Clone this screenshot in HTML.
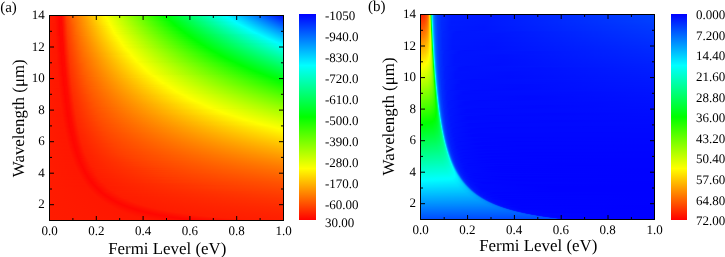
<!DOCTYPE html>
<html><head><meta charset="utf-8"><style>
html,body{margin:0;padding:0;background:#fff;width:725px;height:257px;overflow:hidden}
.hm{position:absolute;display:flex;flex-direction:column}
.hm i{display:block;height:1px;flex:none}
.cb{position:absolute;background:linear-gradient(180deg,#0000ff 0%,#00ffff 25%,#00ff00 50%,#ffff00 75%,#ff0000 100%)}
svg{position:absolute;left:0;top:0;will-change:transform}
text{font-family:"Liberation Serif",serif;fill:#000;text-rendering:geometricPrecision}
</style></head><body>
<div class="hm" style="left:49px;top:15px;width:235px;height:206px"><i style="background:linear-gradient(90deg,#ff1b00 0.5px,#ff1700 5.5px,#ff0600 9.5px,#ff0900 12.5px,#ff1d00 14.5px,#ff4100 17.5px,#ff6d00 24.5px,#fffc00 55.5px,#66ff00 91.5px,#00ff00 115.5px,#00feff 175.5px,#0004ff 234.5px)"></i><i style="background:linear-gradient(90deg,#ff1b00 0.5px,#ff1700 5.5px,#ff0600 9.5px,#ff0800 12.5px,#ff1c00 14.5px,#ff4100 17.5px,#ff6c00 24.5px,#fffe00 56.5px,#00ff00 116.5px,#00fcff 177.5px,#000dff 234.5px)"></i><i style="background:linear-gradient(90deg,#ff1b00 0.5px,#ff1700 5.5px,#ff0700 9.5px,#ff0800 12.5px,#ff1c00 14.5px,#ff4000 17.5px,#ff6b00 24.5px,#fffc00 56.5px,#00ff00 117.5px,#00ffff 178.5px,#0016ff 234.5px)"></i><i style="background:linear-gradient(90deg,#ff1b00 0.5px,#ff1700 5.5px,#ff0600 10.5px,#ff0800 12.5px,#ff1b00 14.5px,#ff3f00 17.5px,#ff6500 23.5px,#fff100 54.5px,#fcff00 58.5px,#00ff00 118.5px,#00feff 180.5px,#001eff 234.5px)"></i><i style="background:linear-gradient(90deg,#ff1b00 0.5px,#ff1700 5.5px,#ff0600 10.5px,#ff0800 12.5px,#ff1a00 14.5px,#ff3e00 17.5px,#ff6400 23.5px,#ffef00 54.5px,#feff00 58.5px,#01ff00 119.5px,#00fcff 182.5px,#0027ff 234.5px)"></i><i style="background:linear-gradient(90deg,#ff1b00 0.5px,#ff1700 5.5px,#ff0600 10.5px,#ff0800 12.5px,#ff1900 14.5px,#ff3d00 17.5px,#ff6300 23.5px,#ffed00 54.5px,#fcff00 59.5px,#01ff00 120.5px,#00ffff 183.5px,#0030ff 234.5px)"></i><i style="background:linear-gradient(90deg,#ff1b00 0.5px,#ff1700 5.5px,#ff0600 10.5px,#ff0700 12.5px,#ff1900 14.5px,#ff3c00 17.5px,#ff6200 23.5px,#ffe700 53.5px,#feff00 59.5px,#00ff03 122.5px,#00feff 185.5px,#0039ff 234.5px)"></i><i style="background:linear-gradient(90deg,#ff1b00 0.5px,#ff1800 5.5px,#ff0600 10.5px,#ff0700 12.5px,#ff1800 14.5px,#ff3c00 17.5px,#ff6100 23.5px,#ffe500 53.5px,#fcff00 60.5px,#00ff02 123.5px,#00fdff 187.5px,#0042ff 234.5px)"></i><i style="background:linear-gradient(90deg,#ff1b00 0.5px,#ff1400 6.5px,#ff0600 10.5px,#ff0700 12.5px,#ff1700 14.5px,#ff3b00 17.5px,#ff6000 23.5px,#ffe300 53.5px,#feff00 60.5px,#00ff01 124.5px,#00fffe 188.5px,#004aff 234.5px)"></i><i style="background:linear-gradient(90deg,#ff1b00 0.5px,#ff1500 6.5px,#ff0600 10.5px,#ff0700 12.5px,#ff1600 14.5px,#ff4300 18.5px,#ff7700 28.5px,#fffe00 60.5px,#00ff01 125.5px,#00ffff 190.5px,#0053ff 234.5px)"></i><i style="background:linear-gradient(90deg,#ff1b00 0.5px,#ff1500 6.5px,#ff0600 10.5px,#ff0700 12.5px,#ff1600 14.5px,#ff4200 18.5px,#ff7600 28.5px,#ffff00 61.5px,#00ff00 126.5px,#00feff 192.5px,#005bff 234.5px)"></i><i style="background:linear-gradient(90deg,#ff1b00 0.5px,#ff1500 6.5px,#ff0600 10.5px,#ff0b00 13.5px,#ff4100 18.5px,#ff7500 28.5px,#fdff00 62.5px,#01ff00 127.5px,#00fdff 194.5px,#0064ff 234.5px)"></i><i style="background:linear-gradient(90deg,#ff1b00 0.5px,#ff1500 6.5px,#ff0600 10.5px,#ff0b00 13.5px,#ff4000 18.5px,#ff7400 28.5px,#ffff00 62.5px,#00ff02 129.5px,#00fdff 196.5px,#006cff 234.5px)"></i><i style="background:linear-gradient(90deg,#ff1b00 0.5px,#ff1500 6.5px,#ff0600 10.5px,#ff0b00 13.5px,#ff3f00 18.5px,#ff6f00 27.5px,#feff00 63.5px,#00ff01 130.5px,#00fcff 198.5px,#0075ff 234.5px)"></i><i style="background:linear-gradient(90deg,#ff1b00 0.5px,#ff1500 6.5px,#ff0600 10.5px,#ff0a00 13.5px,#ff3f00 18.5px,#ff6e00 27.5px,#fffe00 63.5px,#00ff00 131.5px,#00fcff 200.5px,#007dff 234.5px)"></i><i style="background:linear-gradient(90deg,#ff1b00 0.5px,#ff1600 6.5px,#ff0600 10.5px,#ff0a00 13.5px,#ff3e00 18.5px,#ff6d00 27.5px,#feff00 64.5px,#00ff00 132.5px,#00ffff 201.5px,#0086ff 234.5px)"></i><i style="background:linear-gradient(90deg,#ff1b00 0.5px,#ff1600 6.5px,#ff0600 10.5px,#ff0900 13.5px,#ff3d00 18.5px,#ff6c00 27.5px,#fffd00 64.5px,#00ff02 134.5px,#00ffff 203.5px,#008eff 234.5px)"></i><i style="background:linear-gradient(90deg,#ff1b00 0.5px,#ff1600 6.5px,#ff0600 10.5px,#ff0900 13.5px,#ff3c00 18.5px,#ff6600 26.5px,#ffff00 65.5px,#00ff01 135.5px,#00ffff 205.5px,#0096ff 234.5px)"></i><i style="background:linear-gradient(90deg,#ff1b00 0.5px,#ff1600 6.5px,#ff0600 10.5px,#ff0900 13.5px,#ff3c00 18.5px,#ff6600 26.5px,#fffd00 65.5px,#00ff00 136.5px,#00ffff 207.5px,#009fff 234.5px)"></i><i style="background:linear-gradient(90deg,#ff1b00 0.5px,#ff1600 6.5px,#ff0600 10.5px,#ff0800 13.5px,#ff3b00 18.5px,#ff6500 26.5px,#fffe00 66.5px,#00ff02 138.5px,#00fcff 210.5px,#00a7ff 234.5px)"></i><i style="background:linear-gradient(90deg,#ff1b00 0.5px,#ff1600 6.5px,#ff0600 10.5px,#ff0800 13.5px,#ff2600 16.5px,#ff4100 19.5px,#ff7d00 32.5px,#ffff00 67.5px,#00ff01 139.5px,#00fcff 212.5px,#00afff 234.5px)"></i><i style="background:linear-gradient(90deg,#ff1b00 0.5px,#ff1700 6.5px,#ff0600 11.5px,#ff0800 13.5px,#ff1900 15.5px,#ff3900 18.5px,#ff5e00 25.5px,#ffe700 61.5px,#feff00 68.5px,#00ff00 140.5px,#00fdff 214.5px,#00b7ff 234.5px)"></i><i style="background:linear-gradient(90deg,#ff1b00 0.5px,#ff1700 6.5px,#ff0600 11.5px,#ff0800 13.5px,#ff1900 15.5px,#ff3800 18.5px,#ff5e00 25.5px,#ffe500 61.5px,#fcff00 69.5px,#00ff02 142.5px,#00fdff 216.5px,#00bfff 234.5px)"></i><i style="background:linear-gradient(90deg,#ff1b00 0.5px,#ff1700 6.5px,#ff0600 11.5px,#ff0700 13.5px,#ff1800 15.5px,#ff3800 18.5px,#ff5d00 25.5px,#ffe300 61.5px,#ffff00 69.5px,#00ff00 143.5px,#00feff 218.5px,#00c7ff 234.5px)"></i><i style="background:linear-gradient(90deg,#ff1b00 0.5px,#ff1700 6.5px,#ff0600 11.5px,#ff0700 13.5px,#ff1700 15.5px,#ff3700 18.5px,#ff5c00 25.5px,#ffe100 61.5px,#feff00 70.5px,#00ff02 145.5px,#00ffff 220.5px,#00cfff 234.5px)"></i><i style="background:linear-gradient(90deg,#ff1b00 0.5px,#ff1700 6.5px,#ff0600 11.5px,#ff0700 13.5px,#ff1600 15.5px,#ff3d00 19.5px,#ff7300 31.5px,#fffe00 70.5px,#00ff00 146.5px,#00fcff 223.5px,#00d7ff 234.5px)"></i><i style="background:linear-gradient(90deg,#ff1b00 0.5px,#ff1700 6.5px,#ff0600 11.5px,#ff0700 13.5px,#ff1500 15.5px,#ff3d00 19.5px,#ff7200 31.5px,#ffff00 71.5px,#00ff02 148.5px,#00fdff 225.5px,#00dfff 234.5px)"></i><i style="background:linear-gradient(90deg,#ff1b00 0.5px,#ff1700 6.5px,#ff0600 11.5px,#ff0c00 14.5px,#ff3c00 19.5px,#ff6d00 30.5px,#feff00 72.5px,#00ff00 149.5px,#00feff 227.5px,#00e7ff 234.5px)"></i><i style="background:linear-gradient(90deg,#ff1b00 0.5px,#ff1800 6.5px,#ff0600 11.5px,#ff0b00 14.5px,#ff3b00 19.5px,#ff6c00 30.5px,#fffd00 72.5px,#00ff02 151.5px,#00fcff 230.5px,#00efff 234.5px)"></i><i style="background:linear-gradient(90deg,#ff1b00 0.5px,#ff1800 6.5px,#ff0600 11.5px,#ff0b00 14.5px,#ff3a00 19.5px,#ff6b00 30.5px,#fffe00 73.5px,#00ff00 152.5px,#00fdff 232.5px,#00f7ff 234.5px)"></i><i style="background:linear-gradient(90deg,#ff1b00 0.5px,#ff1500 7.5px,#ff0600 11.5px,#ff0a00 14.5px,#ff3900 19.5px,#ff6a00 30.5px,#ffff00 74.5px,#00ff01 154.5px,#00ffff 234.5px)"></i><i style="background:linear-gradient(90deg,#ff1b00 0.5px,#ff1500 7.5px,#ff0600 11.5px,#ff0a00 14.5px,#ff3900 19.5px,#ff6500 29.5px,#fffd00 74.5px,#00ff03 156.5px,#00fff8 234.5px)"></i><i style="background:linear-gradient(90deg,#ff1b00 0.5px,#ff1500 7.5px,#ff0600 11.5px,#ff0900 14.5px,#ff3800 19.5px,#ff6400 29.5px,#fffd00 75.5px,#00ff01 157.5px,#00fff0 234.5px)"></i><i style="background:linear-gradient(90deg,#ff1b00 0.5px,#ff1500 7.5px,#ff0600 11.5px,#ff0900 14.5px,#ff3700 19.5px,#ff6400 29.5px,#fffe00 76.5px,#00ff02 159.5px,#00ffe8 234.5px)"></i><i style="background:linear-gradient(90deg,#ff1b00 0.5px,#ff1600 7.5px,#ff0600 11.5px,#ff0900 14.5px,#ff3600 19.5px,#ff5f00 28.5px,#fff900 75.5px,#fcff00 78.5px,#00ff02 161.5px,#00ffe1 234.5px)"></i><i style="background:linear-gradient(90deg,#ff1b00 0.5px,#ff1600 7.5px,#ff0600 11.5px,#ff0800 14.5px,#ff3c00 20.5px,#ff7700 35.5px,#ffff00 78.5px,#00ff00 162.5px,#00ffd9 234.5px)"></i><i style="background:linear-gradient(90deg,#ff1b00 0.5px,#ff1600 7.5px,#ff0600 11.5px,#ff0800 14.5px,#ff3b00 20.5px,#ff7600 35.5px,#feff00 79.5px,#00ff01 164.5px,#00ffd1 234.5px)"></i><i style="background:linear-gradient(90deg,#ff1b00 0.5px,#ff1600 7.5px,#ff0600 12.5px,#ff0800 14.5px,#ff3a00 20.5px,#ff7100 34.5px,#feff00 80.5px,#00ff02 166.5px,#00ffca 234.5px)"></i><i style="background:linear-gradient(90deg,#ff1b00 0.5px,#ff1600 7.5px,#ff0600 12.5px,#ff0700 14.5px,#ff2100 17.5px,#ff3a00 20.5px,#ff7000 34.5px,#fdff00 81.5px,#00ff02 168.5px,#00ffc3 234.5px)"></i><i style="background:linear-gradient(90deg,#ff1b00 0.5px,#ff1700 7.5px,#ff0600 12.5px,#ff0700 14.5px,#ff2000 17.5px,#ff3900 20.5px,#ff6f00 34.5px,#fdff00 82.5px,#00ff03 170.5px,#00ffbb 234.5px)"></i><i style="background:linear-gradient(90deg,#ff1b00 0.5px,#ff1700 7.5px,#ff0600 12.5px,#ff0c00 15.5px,#ff3800 20.5px,#ff6b00 33.5px,#ffff00 82.5px,#00ff00 171.5px,#00ffb4 234.5px)"></i><i style="background:linear-gradient(90deg,#ff1b00 0.5px,#ff1700 7.5px,#ff0600 12.5px,#ff0c00 15.5px,#ff3700 20.5px,#ff6a00 33.5px,#ffff00 83.5px,#00ff00 173.5px,#00ffac 234.5px)"></i><i style="background:linear-gradient(90deg,#ff1b00 0.5px,#ff1700 7.5px,#ff0600 12.5px,#ff0b00 15.5px,#ff3700 20.5px,#ff6800 33.5px,#ffff00 84.5px,#00ff01 175.5px,#00ffa5 234.5px)"></i><i style="background:linear-gradient(90deg,#ff1b00 0.5px,#ff1700 7.5px,#ff0600 12.5px,#ff0b00 15.5px,#ff3600 20.5px,#ff6400 32.5px,#ffff00 85.5px,#00ff01 177.5px,#00ff9e 234.5px)"></i><i style="background:linear-gradient(90deg,#ff1b00 0.5px,#ff1700 7.5px,#ff0600 12.5px,#ff0a00 15.5px,#ff3500 20.5px,#ff6300 32.5px,#feff00 86.5px,#00ff01 179.5px,#00ff97 234.5px)"></i><i style="background:linear-gradient(90deg,#ff1b00 0.5px,#ff1800 7.5px,#ff0600 12.5px,#ff0a00 15.5px,#ff3400 20.5px,#ff6200 32.5px,#feff00 87.5px,#00ff01 181.5px,#00ff90 234.5px)"></i><i style="background:linear-gradient(90deg,#ff1b00 0.5px,#ff1800 7.5px,#ff0600 12.5px,#ff0900 15.5px,#ff3300 20.5px,#ff5e00 31.5px,#fffd00 87.5px,#00ff01 183.5px,#00ff88 234.5px)"></i><i style="background:linear-gradient(90deg,#ff1b00 0.5px,#ff1800 7.5px,#ff0600 12.5px,#ff0900 15.5px,#ff3300 20.5px,#ff5d00 31.5px,#fffd00 88.5px,#00ff03 186.5px,#00ff81 234.5px)"></i><i style="background:linear-gradient(90deg,#ff1b00 0.5px,#ff1500 8.5px,#ff0600 12.5px,#ff0800 15.5px,#ff3800 21.5px,#ff7100 38.5px,#feff00 90.5px,#00ff03 188.5px,#00ff7a 234.5px)"></i><i style="background:linear-gradient(90deg,#ff1b00 0.5px,#ff1600 8.5px,#ff0600 12.5px,#ff0800 15.5px,#ff3700 21.5px,#ff6d00 37.5px,#feff00 91.5px,#00ff02 190.5px,#00ff73 234.5px)"></i><i style="background:linear-gradient(90deg,#ff1b00 0.5px,#ff1600 8.5px,#ff0600 13.5px,#ff0800 15.5px,#ff3600 21.5px,#ff6c00 37.5px,#feff00 92.5px,#00ff01 192.5px,#00ff6c 234.5px)"></i><i style="background:linear-gradient(90deg,#ff1b00 0.5px,#ff1600 8.5px,#ff0600 13.5px,#ff0800 15.5px,#ff3500 21.5px,#ff6800 36.5px,#ffff00 93.5px,#00ff01 194.5px,#00ff65 234.5px)"></i><i style="background:linear-gradient(90deg,#ff1b00 0.5px,#ff1600 8.5px,#ff0600 13.5px,#ff0c00 16.5px,#ff3500 21.5px,#ff6700 36.5px,#ffff00 94.5px,#00ff03 197.5px,#00ff5e 234.5px)"></i><i style="background:linear-gradient(90deg,#ff1b00 0.5px,#ff1600 8.5px,#ff0600 13.5px,#ff0c00 16.5px,#ff3400 21.5px,#ff6600 36.5px,#ffff00 95.5px,#00ff02 199.5px,#00ff58 234.5px)"></i><i style="background:linear-gradient(90deg,#ff1b00 0.5px,#ff1700 8.5px,#ff0600 13.5px,#ff0b00 16.5px,#ff3300 21.5px,#ff6200 35.5px,#ffff00 96.5px,#00ff01 201.5px,#00ff51 234.5px)"></i><i style="background:linear-gradient(90deg,#ff1b00 0.5px,#ff1700 8.5px,#ff0600 13.5px,#ff0b00 16.5px,#ff3200 21.5px,#ff6100 35.5px,#fffe00 97.5px,#00ff02 204.5px,#00ff4a 234.5px)"></i><i style="background:linear-gradient(90deg,#ff1b00 0.5px,#ff1700 8.5px,#ff0600 13.5px,#ff0a00 16.5px,#ff3100 21.5px,#ff5d00 34.5px,#fffe00 98.5px,#00ff01 206.5px,#00ff43 234.5px)"></i><i style="background:linear-gradient(90deg,#ff1b00 0.5px,#ff1700 8.5px,#ff0600 13.5px,#ff0a00 16.5px,#ff3100 21.5px,#ff5c00 34.5px,#fffd00 99.5px,#00ff02 209.5px,#00ff3d 234.5px)"></i><i style="background:linear-gradient(90deg,#ff1b00 0.5px,#ff1700 8.5px,#ff0600 13.5px,#ff0900 16.5px,#ff3000 21.5px,#ff5900 33.5px,#fffd00 100.5px,#00ff01 211.5px,#00ff36 234.5px)"></i><i style="background:linear-gradient(90deg,#ff1b00 0.5px,#ff1800 8.5px,#ff0600 13.5px,#ff0900 16.5px,#ff2f00 21.5px,#ff5800 33.5px,#fffc00 101.5px,#00ff02 214.5px,#00ff2f 234.5px)"></i><i style="background:linear-gradient(90deg,#ff1b00 0.5px,#ff1800 8.5px,#ff0600 13.5px,#ff0800 16.5px,#ff3300 22.5px,#ff6900 40.5px,#fdff00 104.5px,#00ff03 217.5px,#00ff29 234.5px)"></i><i style="background:linear-gradient(90deg,#ff1b00 0.5px,#ff1800 8.5px,#ff0600 14.5px,#ff0800 16.5px,#ff3300 22.5px,#ff6600 39.5px,#feff00 105.5px,#00ff01 219.5px,#00ff22 234.5px)"></i><i style="background:linear-gradient(90deg,#ff1b00 0.5px,#ff1600 9.5px,#ff0600 14.5px,#ff0d00 17.5px,#ff2d00 21.5px,#ff4f00 31.5px,#ffd700 88.5px,#fdff00 107.5px,#00ff02 222.5px,#00ff1c 234.5px)"></i><i style="background:linear-gradient(90deg,#ff1b00 0.5px,#ff1600 9.5px,#ff0600 14.5px,#ff0c00 17.5px,#ff3100 22.5px,#ff6100 38.5px,#fdff00 108.5px,#00ff02 225.5px,#00ff15 234.5px)"></i><i style="background:linear-gradient(90deg,#ff1b00 0.5px,#ff1600 9.5px,#ff0600 14.5px,#ff0c00 17.5px,#ff3000 22.5px,#ff6000 38.5px,#feff00 109.5px,#00ff02 228.5px,#00ff0f 234.5px)"></i><i style="background:linear-gradient(90deg,#ff1b00 0.5px,#ff1600 9.5px,#ff0600 14.5px,#ff0b00 17.5px,#ff3000 22.5px,#ff5f00 38.5px,#ffff00 110.5px,#00ff02 231.5px,#00ff09 234.5px)"></i><i style="background:linear-gradient(90deg,#ff1b00 0.5px,#ff1600 9.5px,#ff0600 14.5px,#ff0a00 17.5px,#ff2f00 22.5px,#ff5b00 37.5px,#fffe00 111.5px,#00ff02 234.5px)"></i><i style="background:linear-gradient(90deg,#ff1b00 0.5px,#ff1700 9.5px,#ff0600 14.5px,#ff0a00 17.5px,#ff2e00 22.5px,#ff5800 36.5px,#ffff00 113.5px,#04ff00 234.5px)"></i><i style="background:linear-gradient(90deg,#ff1b00 0.5px,#ff1700 9.5px,#ff0600 14.5px,#ff0900 17.5px,#ff2d00 22.5px,#ff5700 36.5px,#ffff00 114.5px,#0aff00 234.5px)"></i><i style="background:linear-gradient(90deg,#ff1b00 0.5px,#ff1700 9.5px,#ff0600 14.5px,#ff0900 17.5px,#ff2d00 22.5px,#ff5400 35.5px,#fff700 112.5px,#faff00 118.5px,#10ff00 234.5px)"></i><i style="background:linear-gradient(90deg,#ff1b00 0.5px,#ff1700 9.5px,#ff0600 14.5px,#ff0800 17.5px,#ff3000 23.5px,#ff6300 42.5px,#fdff00 118.5px,#16ff00 234.5px)"></i><i style="background:linear-gradient(90deg,#ff1b00 0.5px,#ff1700 9.5px,#ff0600 15.5px,#ff0e00 18.5px,#ff2b00 22.5px,#ff4f00 34.5px,#ffe400 105.5px,#fdff00 120.5px,#1dff00 234.5px)"></i><i style="background:linear-gradient(90deg,#ff1b00 0.5px,#ff1800 9.5px,#ff0600 15.5px,#ff0d00 18.5px,#ff2f00 23.5px,#ff5f00 41.5px,#feff00 121.5px,#23ff00 234.5px)"></i><i style="background:linear-gradient(90deg,#ff1b00 0.5px,#ff1500 10.5px,#ff0600 15.5px,#ff0c00 18.5px,#ff2e00 23.5px,#ff5e00 41.5px,#ffff00 122.5px,#29ff00 234.5px)"></i><i style="background:linear-gradient(90deg,#ff1b00 0.5px,#ff1600 10.5px,#ff0600 15.5px,#ff0b00 18.5px,#ff2d00 23.5px,#ff5a00 40.5px,#feff00 124.5px,#2fff00 234.5px)"></i><i style="background:linear-gradient(90deg,#ff1b00 0.5px,#ff1600 10.5px,#ff0600 15.5px,#ff0b00 18.5px,#ff2d00 23.5px,#ff5900 40.5px,#fffe00 125.5px,#35ff00 234.5px)"></i><i style="background:linear-gradient(90deg,#ff1b00 0.5px,#ff1600 10.5px,#ff0600 15.5px,#ff0a00 18.5px,#ff2c00 23.5px,#ff5600 39.5px,#ffff00 127.5px,#3aff00 234.5px)"></i><i style="background:linear-gradient(90deg,#ff1b00 0.5px,#ff1700 10.5px,#ff0600 15.5px,#ff0a00 18.5px,#ff2b00 23.5px,#ff5300 38.5px,#fffe00 128.5px,#40ff00 234.5px)"></i><i style="background:linear-gradient(90deg,#ff1b00 0.5px,#ff1700 10.5px,#ff0600 15.5px,#ff0900 18.5px,#ff2a00 23.5px,#ff5200 38.5px,#fffe00 130.5px,#46ff00 234.5px)"></i><i style="background:linear-gradient(90deg,#ff1b00 0.5px,#ff1700 10.5px,#ff0600 15.5px,#ff0800 18.5px,#ff2e00 24.5px,#ff5f00 45.5px,#feff00 133.5px,#4cff00 234.5px)"></i><i style="background:linear-gradient(90deg,#ff1b00 0.5px,#ff1700 10.5px,#ff0600 16.5px,#ff0d00 19.5px,#ff2d00 24.5px,#ff5c00 44.5px,#feff00 135.5px,#52ff00 234.5px)"></i><i style="background:linear-gradient(90deg,#ff1b00 0.5px,#ff1700 10.5px,#ff0600 16.5px,#ff0c00 19.5px,#ff2c00 24.5px,#ff5900 43.5px,#fdff00 137.5px,#57ff00 234.5px)"></i><i style="background:linear-gradient(90deg,#ff1b00 0.5px,#ff1800 10.5px,#ff0600 16.5px,#ff0c00 19.5px,#ff2b00 24.5px,#ff5800 43.5px,#ffff00 138.5px,#5dff00 234.5px)"></i><i style="background:linear-gradient(90deg,#ff1b00 0.5px,#ff1600 11.5px,#ff0600 16.5px,#ff0b00 19.5px,#ff2b00 24.5px,#ff5500 42.5px,#ffff00 140.5px,#63ff00 234.5px)"></i><i style="background:linear-gradient(90deg,#ff1b00 0.5px,#ff1600 11.5px,#ff0600 16.5px,#ff0a00 19.5px,#ff2a00 24.5px,#ff5400 42.5px,#ffff00 142.5px,#68ff00 234.5px)"></i><i style="background:linear-gradient(90deg,#ff1b00 0.5px,#ff1600 11.5px,#ff0600 16.5px,#ff0a00 19.5px,#ff2900 24.5px,#ff5100 41.5px,#ffff00 144.5px,#6eff00 234.5px)"></i><i style="background:linear-gradient(90deg,#ff1b00 0.5px,#ff1600 11.5px,#ff0600 16.5px,#ff0900 19.5px,#ff2800 24.5px,#ff4e00 40.5px,#ffff00 146.5px,#73ff00 234.5px)"></i><i style="background:linear-gradient(90deg,#ff1b00 0.5px,#ff1700 11.5px,#ff0600 16.5px,#ff0900 19.5px,#ff2b00 25.5px,#ff5a00 47.5px,#feff00 149.5px,#79ff00 234.5px)"></i><i style="background:linear-gradient(90deg,#ff1b00 0.5px,#ff1700 11.5px,#ff0600 17.5px,#ff0d00 20.5px,#ff2b00 25.5px,#ff5700 46.5px,#feff00 151.5px,#7eff00 234.5px)"></i><i style="background:linear-gradient(90deg,#ff1b00 0.5px,#ff1700 11.5px,#ff0600 17.5px,#ff0c00 20.5px,#ff2a00 25.5px,#ff5600 46.5px,#fdff00 154.5px,#84ff00 234.5px)"></i><i style="background:linear-gradient(90deg,#ff1b00 0.5px,#ff1700 11.5px,#ff0600 17.5px,#ff0b00 20.5px,#ff2900 25.5px,#ff5400 45.5px,#feff00 156.5px,#89ff00 234.5px)"></i><i style="background:linear-gradient(90deg,#ff1b00 0.5px,#ff1800 11.5px,#ff0600 17.5px,#ff0b00 20.5px,#ff2800 25.5px,#ff5100 44.5px,#feff00 158.5px,#8eff00 234.5px)"></i><i style="background:linear-gradient(90deg,#ff1b00 0.5px,#ff1600 12.5px,#ff0600 17.5px,#ff0a00 20.5px,#ff2800 25.5px,#ff4e00 43.5px,#ffff00 160.5px,#93ff00 234.5px)"></i><i style="background:linear-gradient(90deg,#ff1b00 0.5px,#ff1600 12.5px,#ff0600 17.5px,#ff0900 20.5px,#ff2700 25.5px,#ff4b00 42.5px,#fffd00 161.5px,#99ff00 234.5px)"></i><i style="background:linear-gradient(90deg,#ff1b00 0.5px,#ff1600 12.5px,#ff0600 17.5px,#ff0900 20.5px,#ff2a00 26.5px,#ff5800 50.5px,#feff00 166.5px,#9eff00 234.5px)"></i><i style="background:linear-gradient(90deg,#ff1b00 0.5px,#ff1700 12.5px,#ff0600 18.5px,#ff0d00 21.5px,#ff2900 26.5px,#ff5500 49.5px,#fdff00 169.5px,#a3ff00 234.5px)"></i><i style="background:linear-gradient(90deg,#ff1b00 0.5px,#ff1700 12.5px,#ff0600 18.5px,#ff0c00 21.5px,#ff2800 26.5px,#ff5200 48.5px,#feff00 171.5px,#a8ff00 234.5px)"></i><i style="background:linear-gradient(90deg,#ff1b00 0.5px,#ff1700 12.5px,#ff0600 18.5px,#ff0b00 21.5px,#ff2700 26.5px,#ff5000 47.5px,#ffff00 173.5px,#adff00 234.5px)"></i><i style="background:linear-gradient(90deg,#ff1b00 0.5px,#ff1700 12.5px,#ff0600 18.5px,#ff0a00 21.5px,#ff2700 26.5px,#ff4d00 46.5px,#ffff00 176.5px,#b2ff00 234.5px)"></i><i style="background:linear-gradient(90deg,#ff1b00 0.5px,#ff1600 13.5px,#ff0600 18.5px,#ff0a00 21.5px,#ff2600 26.5px,#ff4b00 45.5px,#fffe00 178.5px,#b7ff00 234.5px)"></i><i style="background:linear-gradient(90deg,#ff1b00 0.5px,#ff1600 13.5px,#ff0600 18.5px,#ff0900 21.5px,#ff2800 27.5px,#ff5400 52.5px,#fdff00 183.5px,#bcff00 234.5px)"></i><i style="background:linear-gradient(90deg,#ff1b00 0.5px,#ff1600 13.5px,#ff0600 18.5px,#ff0800 21.5px,#ff2800 27.5px,#ff5200 51.5px,#fdff00 186.5px,#c1ff00 234.5px)"></i><i style="background:linear-gradient(90deg,#ff1b00 0.5px,#ff1700 13.5px,#ff0600 19.5px,#ff0c00 22.5px,#ff2700 27.5px,#ff5100 51.5px,#fdff00 189.5px,#c6ff00 234.5px)"></i><i style="background:linear-gradient(90deg,#ff1b00 0.5px,#ff1700 13.5px,#ff0600 19.5px,#ff0b00 22.5px,#ff2600 27.5px,#ff4e00 50.5px,#feff00 192.5px,#cbff00 234.5px)"></i><i style="background:linear-gradient(90deg,#ff1b00 0.5px,#ff1700 13.5px,#ff0600 19.5px,#ff0b00 22.5px,#ff2500 27.5px,#ff4c00 49.5px,#feff00 195.5px,#cfff00 234.5px)"></i><i style="background:linear-gradient(90deg,#ff1b00 0.5px,#ff1700 13.5px,#ff0600 19.5px,#ff0a00 22.5px,#ff2400 27.5px,#ff4800 47.5px,#fffe00 197.5px,#d4ff00 234.5px)"></i><i style="background:linear-gradient(90deg,#ff1b00 0.5px,#ff1600 14.5px,#ff0600 19.5px,#ff0900 22.5px,#ff2700 28.5px,#ff5200 55.5px,#feff00 202.5px,#d9ff00 234.5px)"></i><i style="background:linear-gradient(90deg,#ff1b00 0.5px,#ff1600 14.5px,#ff0600 19.5px,#ff0800 22.5px,#ff2600 28.5px,#ff4f00 54.5px,#fdff00 206.5px,#ddff00 234.5px)"></i><i style="background:linear-gradient(90deg,#ff1b00 0.5px,#ff1700 14.5px,#ff0600 20.5px,#ff0c00 23.5px,#ff2500 28.5px,#ff4d00 53.5px,#feff00 209.5px,#e2ff00 234.5px)"></i><i style="background:linear-gradient(90deg,#ff1b00 0.5px,#ff1700 14.5px,#ff0600 20.5px,#ff0b00 23.5px,#ff2400 28.5px,#ff4900 51.5px,#ffff00 212.5px,#e7ff00 234.5px)"></i><i style="background:linear-gradient(90deg,#ff1b00 0.5px,#ff1700 14.5px,#ff0600 20.5px,#ff0a00 23.5px,#ff2400 28.5px,#ff4700 50.5px,#feff00 216.5px,#ebff00 234.5px)"></i><i style="background:linear-gradient(90deg,#ff1b00 0.5px,#ff1700 14.5px,#ff0600 20.5px,#ff0900 23.5px,#ff2600 29.5px,#ff4f00 57.5px,#fdff00 221.5px,#f0ff00 234.5px)"></i><i style="background:linear-gradient(90deg,#ff1b00 0.5px,#ff1600 15.5px,#ff0600 20.5px,#ff0900 23.5px,#ff2500 29.5px,#ff4c00 56.5px,#fdff00 225.5px,#f4ff00 234.5px)"></i><i style="background:linear-gradient(90deg,#ff1b00 0.5px,#ff1600 15.5px,#ff0600 21.5px,#ff0c00 24.5px,#ff2400 29.5px,#ff4a00 55.5px,#feff00 229.5px,#f8ff00 234.5px)"></i><i style="background:linear-gradient(90deg,#ff1b00 0.5px,#ff1700 15.5px,#ff0600 21.5px,#ff0b00 24.5px,#ff2300 29.5px,#ff4800 54.5px,#feff00 233.5px,#fdff00 234.5px)"></i><i style="background:linear-gradient(90deg,#ff1b00 0.5px,#ff1700 15.5px,#ff0600 21.5px,#ff0a00 24.5px,#ff2300 29.5px,#ff4500 52.5px,#fffd00 234.5px)"></i><i style="background:linear-gradient(90deg,#ff1b00 0.5px,#ff1700 15.5px,#ff0600 21.5px,#ff0900 24.5px,#ff2400 30.5px,#ff4d00 60.5px,#fff900 234.5px)"></i><i style="background:linear-gradient(90deg,#ff1b00 0.5px,#ff1600 16.5px,#ff0600 21.5px,#ff0800 24.5px,#ff2400 30.5px,#ff4900 58.5px,#fff400 234.5px)"></i><i style="background:linear-gradient(90deg,#ff1b00 0.5px,#ff1600 16.5px,#ff0600 22.5px,#ff0c00 25.5px,#ff2300 30.5px,#ff4700 57.5px,#fff000 234.5px)"></i><i style="background:linear-gradient(90deg,#ff1b00 0.5px,#ff1700 16.5px,#ff0600 22.5px,#ff0b00 25.5px,#ff2200 30.5px,#ff4500 56.5px,#ffec00 234.5px)"></i><i style="background:linear-gradient(90deg,#ff1b00 0.5px,#ff1700 16.5px,#ff0600 22.5px,#ff0a00 25.5px,#ff2100 30.5px,#ff4200 54.5px,#ffe800 234.5px)"></i><i style="background:linear-gradient(90deg,#ff1b00 0.5px,#ff1700 16.5px,#ff0600 23.5px,#ff0d00 26.5px,#ff2300 31.5px,#ff4800 61.5px,#ffe400 234.5px)"></i><i style="background:linear-gradient(90deg,#ff1b00 0.5px,#ff1600 17.5px,#ff0600 23.5px,#ff0c00 26.5px,#ff2200 31.5px,#ff4600 60.5px,#ffe000 234.5px)"></i><i style="background:linear-gradient(90deg,#ff1b00 0.5px,#ff1600 17.5px,#ff0600 23.5px,#ff0b00 26.5px,#ff2100 31.5px,#ff4300 58.5px,#ffdc00 234.5px)"></i><i style="background:linear-gradient(90deg,#ff1b00 0.5px,#ff1700 17.5px,#ff0600 23.5px,#ff0a00 26.5px,#ff2100 31.5px,#ff4000 56.5px,#ffd800 234.5px)"></i><i style="background:linear-gradient(90deg,#ff1b00 0.5px,#ff1700 17.5px,#ff0600 23.5px,#ff0900 26.5px,#ff2200 32.5px,#ff4700 64.5px,#ffd400 234.5px)"></i><i style="background:linear-gradient(90deg,#ff1b00 0.5px,#ff1600 18.5px,#ff0600 24.5px,#ff0c00 27.5px,#ff2100 32.5px,#ff4400 62.5px,#ffd000 234.5px)"></i><i style="background:linear-gradient(90deg,#ff1b00 0.5px,#ff1600 18.5px,#ff0600 24.5px,#ff0b00 27.5px,#ff2100 32.5px,#ff4100 60.5px,#ffcc00 234.5px)"></i><i style="background:linear-gradient(90deg,#ff1b00 0.5px,#ff1700 18.5px,#ff0600 24.5px,#ff0a00 27.5px,#ff2200 33.5px,#ff4700 68.5px,#ffc800 234.5px)"></i><i style="background:linear-gradient(90deg,#ff1b00 0.5px,#ff1700 18.5px,#ff0600 25.5px,#ff0d00 28.5px,#ff2100 33.5px,#ff4400 66.5px,#ffc500 234.5px)"></i><i style="background:linear-gradient(90deg,#ff1b00 0.5px,#ff1600 19.5px,#ff0600 25.5px,#ff0c00 28.5px,#ff2000 33.5px,#ff4200 64.5px,#ffc100 234.5px)"></i><i style="background:linear-gradient(90deg,#ff1b00 0.5px,#ff1600 19.5px,#ff0600 25.5px,#ff0a00 28.5px,#ff1f00 33.5px,#ff3f00 62.5px,#ffbd00 234.5px)"></i><i style="background:linear-gradient(90deg,#ff1b00 0.5px,#ff1700 19.5px,#ff0600 25.5px,#ff0900 28.5px,#ff2100 34.5px,#ff4400 69.5px,#ffba00 234.5px)"></i><i style="background:linear-gradient(90deg,#ff1b00 0.5px,#ff1700 19.5px,#ff0600 26.5px,#ff0c00 29.5px,#ff2000 34.5px,#ff4100 67.5px,#ffb600 234.5px)"></i><i style="background:linear-gradient(90deg,#ff1b00 0.5px,#ff1600 20.5px,#ff0600 26.5px,#ff0b00 29.5px,#ff1f00 34.5px,#ff3e00 65.5px,#ffb300 234.5px)"></i><i style="background:linear-gradient(90deg,#ff1b00 0.5px,#ff1600 20.5px,#ff0600 26.5px,#ff0a00 29.5px,#ff2000 35.5px,#ff4300 72.5px,#ffaf00 234.5px)"></i><i style="background:linear-gradient(90deg,#ff1b00 0.5px,#ff1700 20.5px,#ff0600 27.5px,#ff0d00 30.5px,#ff2000 35.5px,#ff4000 70.5px,#ffac00 234.5px)"></i><i style="background:linear-gradient(90deg,#ff1b00 0.5px,#ff1600 21.5px,#ff0600 27.5px,#ff0b00 30.5px,#ff1f00 35.5px,#ff3d00 67.5px,#ffa800 234.5px)"></i><i style="background:linear-gradient(90deg,#ff1b00 0.5px,#ff1600 21.5px,#ff0600 27.5px,#ff0a00 30.5px,#ff2000 36.5px,#ff4200 75.5px,#ffa500 234.5px)"></i><i style="background:linear-gradient(90deg,#ff1b00 0.5px,#ff1700 21.5px,#ff0600 28.5px,#ff0c00 31.5px,#ff1f00 36.5px,#ff3f00 72.5px,#ffa100 234.5px)"></i><i style="background:linear-gradient(90deg,#ff1b00 0.5px,#ff1600 22.5px,#ff0600 28.5px,#ff0b00 31.5px,#ff1e00 36.5px,#ff3b00 69.5px,#ff9e00 234.5px)"></i><i style="background:linear-gradient(90deg,#ff1b00 0.5px,#ff1600 22.5px,#ff0600 28.5px,#ff0900 31.5px,#ff1f00 37.5px,#ff4000 77.5px,#ff9b00 234.5px)"></i><i style="background:linear-gradient(90deg,#ff1b00 0.5px,#ff1700 22.5px,#ff0600 29.5px,#ff1100 33.5px,#ff2000 38.5px,#ff4300 84.5px,#ff9800 234.5px)"></i><i style="background:linear-gradient(90deg,#ff1b00 0.5px,#ff1600 23.5px,#ff0600 29.5px,#ff0a00 32.5px,#ff1f00 38.5px,#ff4000 81.5px,#ff9400 234.5px)"></i><i style="background:linear-gradient(90deg,#ff1b00 0.5px,#ff1600 23.5px,#ff0600 30.5px,#ff1200 34.5px,#ff2100 40.5px,#ff4900 98.5px,#ff9100 234.5px)"></i><i style="background:linear-gradient(90deg,#ff1b00 0.5px,#ff1700 23.5px,#ff0600 30.5px,#ff1000 34.5px,#ff1f00 39.5px,#ff4100 86.5px,#ff8e00 234.5px)"></i><i style="background:linear-gradient(90deg,#ff1b00 0.5px,#ff1600 24.5px,#ff0600 30.5px,#ff0e00 34.5px,#ff1e00 39.5px,#ff3d00 82.5px,#ff8b00 234.5px)"></i><i style="background:linear-gradient(90deg,#ff1b00 0.5px,#ff1700 24.5px,#ff0600 31.5px,#ff1000 35.5px,#ff2000 41.5px,#ff4500 99.5px,#ff8800 234.5px)"></i><i style="background:linear-gradient(90deg,#ff1b00 0.5px,#ff1700 24.5px,#ff0600 31.5px,#ff0e00 35.5px,#ff1e00 40.5px,#ff3d00 86.5px,#ff8500 234.5px)"></i><i style="background:linear-gradient(90deg,#ff1b00 0.5px,#ff1600 25.5px,#ff0600 32.5px,#ff1100 36.5px,#ff2000 42.5px,#ff4500 103.5px,#ff8200 234.5px)"></i><i style="background:linear-gradient(90deg,#ff1b00 0.5px,#ff1700 25.5px,#ff0600 32.5px,#ff0f00 36.5px,#ff1e00 41.5px,#ff3d00 89.5px,#ff7f00 234.5px)"></i><i style="background:linear-gradient(90deg,#ff1b00 0.5px,#ff1600 26.5px,#ff0600 33.5px,#ff1100 37.5px,#ff2000 43.5px,#ff4400 107.5px,#ff7c00 234.5px)"></i><i style="background:linear-gradient(90deg,#ff1b00 0.5px,#ff1700 26.5px,#ff0600 33.5px,#ff0f00 37.5px,#ff1f00 43.5px,#ff4100 103.5px,#ff7a00 234.5px)"></i><i style="background:linear-gradient(90deg,#ff1b00 0.5px,#ff1600 27.5px,#ff0600 34.5px,#ff1500 39.5px,#ff2200 47.5px,#ff5000 140.5px,#ff7700 234.5px)"></i><i style="background:linear-gradient(90deg,#ff1b00 0.5px,#ff1700 27.5px,#ff0600 34.5px,#ff0f00 38.5px,#ff1e00 44.5px,#ff4000 106.5px,#ff7400 234.5px)"></i><i style="background:linear-gradient(90deg,#ff1b00 0.5px,#ff1600 28.5px,#ff0600 35.5px,#ff1500 40.5px,#ff2100 48.5px,#ff4e00 144.5px,#ff7100 234.5px)"></i><i style="background:linear-gradient(90deg,#ff1b00 0.5px,#ff1700 28.5px,#ff0600 35.5px,#ff0e00 39.5px,#ff1e00 45.5px,#ff3f00 109.5px,#ff6f00 234.5px)"></i><i style="background:linear-gradient(90deg,#ff1b00 0.5px,#ff1600 29.5px,#ff0600 36.5px,#ff1400 41.5px,#ff2100 49.5px,#ff4d00 148.5px,#ff6c00 234.5px)"></i><i style="background:linear-gradient(90deg,#ff1b00 0.5px,#ff1700 29.5px,#ff0600 36.5px,#ff0d00 40.5px,#ff1d00 46.5px,#ff3d00 110.5px,#ff6a00 234.5px)"></i><i style="background:linear-gradient(90deg,#ff1b00 0.5px,#ff1600 30.5px,#ff0600 37.5px,#ff0f00 41.5px,#ff1e00 47.5px,#ff3e00 117.5px,#ff6700 234.5px)"></i><i style="background:linear-gradient(90deg,#ff1b00 0.5px,#ff1700 30.5px,#ff0600 38.5px,#ff1d00 47.5px,#ff3a00 110.5px,#ff6500 234.5px)"></i><i style="background:linear-gradient(90deg,#ff1b00 0.5px,#ff1600 31.5px,#ff0600 38.5px,#ff0e00 42.5px,#ff1d00 48.5px,#ff3c00 117.5px,#ff6200 234.5px)"></i><i style="background:linear-gradient(90deg,#ff1b00 0.5px,#ff1700 31.5px,#ff0600 39.5px,#ff1300 44.5px,#ff1f00 51.5px,#ff4500 149.5px,#ff6000 234.5px)"></i><i style="background:linear-gradient(90deg,#ff1b00 0.5px,#ff1700 32.5px,#ff0600 39.5px,#ff0c00 43.5px,#ff1c00 49.5px,#ff3900 115.5px,#ff5d00 234.5px)"></i><i style="background:linear-gradient(90deg,#ff1b00 0.5px,#ff1600 33.5px,#ff0600 40.5px,#ff0d00 44.5px,#ff1c00 50.5px,#ff3900 121.5px,#ff5b00 234.5px)"></i><i style="background:linear-gradient(90deg,#ff1b00 0.5px,#ff1700 33.5px,#ff0600 41.5px,#ff1200 46.5px,#ff1e00 53.5px,#ff4300 156.5px,#ff5900 234.5px)"></i><i style="background:linear-gradient(90deg,#ff1b00 0.5px,#ff1700 34.5px,#ff0600 42.5px,#ff1d00 52.5px,#ff3b00 133.5px,#ff5600 234.5px)"></i><i style="background:linear-gradient(90deg,#ff1b00 0.5px,#ff1600 35.5px,#ff0600 42.5px,#ff0c00 46.5px,#ff1c00 52.5px,#ff3600 121.5px,#ff5400 234.5px)"></i><i style="background:linear-gradient(90deg,#ff1b00 0.5px,#ff1700 35.5px,#ff0600 43.5px,#ff1000 48.5px,#ff1d00 55.5px,#ff3f00 160.5px,#ff5200 234.5px)"></i><i style="background:linear-gradient(90deg,#ff1b00 0.5px,#ff1700 36.5px,#ff0600 44.5px,#ff1000 49.5px,#ff1d00 56.5px,#ff3f00 165.5px,#ff5000 234.5px)"></i><i style="background:linear-gradient(90deg,#ff1b00 0.5px,#ff1600 37.5px,#ff0600 45.5px,#ff1400 51.5px,#ff1f00 60.5px,#ff4a00 216.5px,#ff4e00 234.5px)"></i><i style="background:linear-gradient(90deg,#ff1b00 0.5px,#ff1600 38.5px,#ff0600 46.5px,#ff1c00 57.5px,#ff3a00 157.5px,#ff4c00 234.5px)"></i><i style="background:linear-gradient(90deg,#ff1b00 0.5px,#ff1700 38.5px,#ff0600 47.5px,#ff1c00 58.5px,#ff3a00 160.5px,#ff4a00 234.5px)"></i><i style="background:linear-gradient(90deg,#ff1b00 0.5px,#ff1700 39.5px,#ff0600 48.5px,#ff1c00 59.5px,#ff3900 162.5px,#ff4800 234.5px)"></i><i style="background:linear-gradient(90deg,#ff1b00 0.5px,#ff1700 40.5px,#ff0600 49.5px,#ff1d00 61.5px,#ff3c00 185.5px,#ff4600 234.5px)"></i><i style="background:linear-gradient(90deg,#ff1b00 0.5px,#ff1700 41.5px,#ff0600 50.5px,#ff1c00 62.5px,#ff3b00 186.5px,#ff4400 234.5px)"></i><i style="background:linear-gradient(90deg,#ff1b00 0.5px,#ff1700 42.5px,#ff0600 51.5px,#ff1500 58.5px,#ff1f00 69.5px,#ff4200 234.5px)"></i><i style="background:linear-gradient(90deg,#ff1b00 0.5px,#ff1700 43.5px,#ff0600 52.5px,#ff1100 58.5px,#ff1d00 66.5px,#ff4000 230.5px,#ff4000 234.5px)"></i><i style="background:linear-gradient(90deg,#ff1b00 0.5px,#ff1700 44.5px,#ff0600 53.5px,#ff1000 59.5px,#ff1d00 67.5px,#ff3e00 229.5px,#ff3f00 234.5px)"></i><i style="background:linear-gradient(90deg,#ff1b00 0.5px,#ff1700 45.5px,#ff0600 55.5px,#ff1c00 68.5px,#ff3b00 225.5px,#ff3d00 234.5px)"></i><i style="background:linear-gradient(90deg,#ff1b00 0.5px,#ff1700 46.5px,#ff0600 56.5px,#ff1300 63.5px,#ff1e00 73.5px,#ff3b00 234.5px)"></i><i style="background:linear-gradient(90deg,#ff1b00 0.5px,#ff1700 47.5px,#ff0600 58.5px,#ff1c00 71.5px,#ff3a00 234.5px)"></i><i style="background:linear-gradient(90deg,#ff1b00 0.5px,#ff1700 48.5px,#ff0600 59.5px,#ff1c00 73.5px,#ff3800 234.5px)"></i><i style="background:linear-gradient(90deg,#ff1b00 0.5px,#ff1700 50.5px,#ff0600 61.5px,#ff1c00 75.5px,#ff3600 234.5px)"></i><i style="background:linear-gradient(90deg,#ff1b00 0.5px,#ff1700 51.5px,#ff0600 62.5px,#ff1300 70.5px,#ff1d00 81.5px,#ff3500 234.5px)"></i><i style="background:linear-gradient(90deg,#ff1b00 0.5px,#ff1700 52.5px,#ff0600 64.5px,#ff1c00 80.5px,#ff3300 234.5px)"></i><i style="background:linear-gradient(90deg,#ff1b00 0.5px,#ff1700 54.5px,#ff0600 66.5px,#ff1c00 82.5px,#ff3200 234.5px)"></i><i style="background:linear-gradient(90deg,#ff1b00 0.5px,#ff1700 55.5px,#ff0600 68.5px,#ff1c00 85.5px,#ff3100 234.5px)"></i><i style="background:linear-gradient(90deg,#ff1b00 0.5px,#ff1700 57.5px,#ff0600 70.5px,#ff1c00 88.5px,#ff2f00 234.5px)"></i><i style="background:linear-gradient(90deg,#ff1b00 0.5px,#ff1700 58.5px,#ff0600 72.5px,#ff1c00 91.5px,#ff2e00 234.5px)"></i><i style="background:linear-gradient(90deg,#ff1b00 0.5px,#ff1700 60.5px,#ff0600 75.5px,#ff1c00 94.5px,#ff2d00 234.5px)"></i><i style="background:linear-gradient(90deg,#ff1b00 0.5px,#ff1700 62.5px,#ff0600 77.5px,#ff1c00 98.5px,#ff2b00 234.5px)"></i><i style="background:linear-gradient(90deg,#ff1b00 0.5px,#ff1700 63.5px,#ff0600 80.5px,#ff1c00 102.5px,#ff2a00 234.5px)"></i><i style="background:linear-gradient(90deg,#ff1b00 0.5px,#ff1700 65.5px,#ff0600 83.5px,#ff1c00 106.5px,#ff2900 234.5px)"></i><i style="background:linear-gradient(90deg,#ff1b00 0.5px,#ff1700 67.5px,#ff0600 86.5px,#ff1c00 110.5px,#ff2800 234.5px)"></i><i style="background:linear-gradient(90deg,#ff1b00 0.5px,#ff1700 70.5px,#ff0600 89.5px,#ff1c00 116.5px,#ff2700 234.5px)"></i><i style="background:linear-gradient(90deg,#ff1b00 0.5px,#ff1700 72.5px,#ff0600 93.5px,#ff1c00 121.5px,#ff2600 234.5px)"></i><i style="background:linear-gradient(90deg,#ff1b00 0.5px,#ff1700 74.5px,#ff0600 97.5px,#ff1c00 127.5px,#ff2500 234.5px)"></i><i style="background:linear-gradient(90deg,#ff1b00 0.5px,#ff1700 77.5px,#ff0600 101.5px,#ff1c00 134.5px,#ff2400 234.5px)"></i><i style="background:linear-gradient(90deg,#ff1b00 0.5px,#ff1700 80.5px,#ff0600 106.5px,#ff1c00 141.5px,#ff2300 234.5px)"></i><i style="background:linear-gradient(90deg,#ff1b00 0.5px,#ff1700 82.5px,#ff0600 111.5px,#ff1d00 150.5px,#ff2200 234.5px)"></i><i style="background:linear-gradient(90deg,#ff1b00 0.5px,#ff1700 85.5px,#ff0600 117.5px,#ff1d00 159.5px,#ff2100 234.5px)"></i><i style="background:linear-gradient(90deg,#ff1b00 0.5px,#ff1700 89.5px,#ff0600 123.5px,#ff1d00 170.5px,#ff2000 234.5px)"></i><i style="background:linear-gradient(90deg,#ff1b00 0.5px,#ff1700 92.5px,#ff0600 130.5px,#ff1d00 182.5px,#ff2000 234.5px)"></i><i style="background:linear-gradient(90deg,#ff1b00 0.5px,#ff1700 96.5px,#ff0600 138.5px,#ff1d00 196.5px,#ff1f00 234.5px)"></i><i style="background:linear-gradient(90deg,#ff1b00 0.5px,#ff1700 100.5px,#ff0600 147.5px,#ff1d00 212.5px,#ff1e00 234.5px)"></i></div>
<div class="cb" style="left:299px;top:14px;width:17px;height:206px"></div>
<div class="hm" style="left:420px;top:14px;width:235px;height:206px"><i style="background:linear-gradient(90deg,#ff1700 0.5px,#ff2d00 4.5px,#ff4700 6.5px,#ff5e00 7.5px,#ff8700 8.5px,#ffd900 9.5px,#6cff00 10.5px,#00ff9a 11.5px,#00cfff 12.5px,#008dff 13.5px,#006aff 14.5px,#0056ff 15.5px,#003eff 17.5px,#002aff 21.5px,#001cff 31.5px,#001aff 67.5px,#0045ff 234.5px)"></i><i style="background:linear-gradient(90deg,#ff1c00 0.5px,#ff3100 4.5px,#ff4a00 6.5px,#ff6100 7.5px,#ff8900 8.5px,#ffd700 9.5px,#75ff00 10.5px,#00ff92 11.5px,#00d3ff 12.5px,#008fff 13.5px,#006bff 14.5px,#0056ff 15.5px,#003eff 17.5px,#002aff 21.5px,#001bff 31.5px,#001aff 68.5px,#0044ff 234.5px)"></i><i style="background:linear-gradient(90deg,#ff2000 0.5px,#ff3500 4.5px,#ff4e00 6.5px,#ff6400 7.5px,#ff8a00 8.5px,#ffd600 9.5px,#7eff00 10.5px,#00ff89 11.5px,#00d7ff 12.5px,#0090ff 13.5px,#006cff 14.5px,#0056ff 15.5px,#003eff 17.5px,#002aff 21.5px,#001bff 31.5px,#001aff 68.5px,#0043ff 234.5px)"></i><i style="background:linear-gradient(90deg,#ff2400 0.5px,#ff3900 4.5px,#ff5100 6.5px,#ff6700 7.5px,#ff8c00 8.5px,#ffd400 9.5px,#87ff00 10.5px,#00ff7f 11.5px,#00dbff 12.5px,#0092ff 13.5px,#006dff 14.5px,#0057ff 15.5px,#003fff 17.5px,#002aff 21.5px,#001bff 31.5px,#0019ff 68.5px,#0042ff 234.5px)"></i><i style="background:linear-gradient(90deg,#ff2900 0.5px,#ff3d00 4.5px,#ff5500 6.5px,#ff6a00 7.5px,#ff8e00 8.5px,#ffd300 9.5px,#8fff00 10.5px,#00ff75 11.5px,#00dfff 12.5px,#0094ff 13.5px,#006eff 14.5px,#0057ff 15.5px,#003fff 17.5px,#002aff 21.5px,#001bff 31.5px,#0019ff 68.5px,#0041ff 234.5px)"></i><i style="background:linear-gradient(90deg,#ff2d00 0.5px,#ff4100 4.5px,#ff5800 6.5px,#ff6d00 7.5px,#ff8f00 8.5px,#ffd200 9.5px,#97ff00 10.5px,#00ff6b 11.5px,#00e3ff 12.5px,#0095ff 13.5px,#006eff 14.5px,#0058ff 15.5px,#003fff 17.5px,#002aff 21.5px,#001bff 31.5px,#0019ff 68.5px,#0040ff 234.5px)"></i><i style="background:linear-gradient(90deg,#ff3100 0.5px,#ff4500 4.5px,#ff5c00 6.5px,#ff7000 7.5px,#ff9100 8.5px,#ffd100 9.5px,#9eff00 10.5px,#00ff61 11.5px,#00e8ff 12.5px,#0097ff 13.5px,#006fff 14.5px,#0058ff 15.5px,#003fff 17.5px,#002aff 21.5px,#001bff 31.5px,#0018ff 68.5px,#003fff 234.5px)"></i><i style="background:linear-gradient(90deg,#ff3600 0.5px,#ff4900 4.5px,#ff5f00 6.5px,#ff7300 7.5px,#ff9300 8.5px,#ffd100 9.5px,#a5ff00 10.5px,#00ff56 11.5px,#00edff 12.5px,#0099ff 13.5px,#0070ff 14.5px,#0059ff 15.5px,#003fff 17.5px,#002aff 21.5px,#001aff 31.5px,#0018ff 67.5px,#003fff 234.5px)"></i><i style="background:linear-gradient(90deg,#ff3a00 0.5px,#ff4d00 4.5px,#ff6300 6.5px,#ff7600 7.5px,#ff9500 8.5px,#ffd000 9.5px,#acff00 10.5px,#00ff4c 11.5px,#00f2ff 12.5px,#009bff 13.5px,#0071ff 14.5px,#0059ff 15.5px,#003fff 17.5px,#0029ff 21.5px,#001aff 31.5px,#0018ff 67.5px,#003eff 234.5px)"></i><i style="background:linear-gradient(90deg,#ff3e00 0.5px,#ff5100 4.5px,#ff6600 6.5px,#ff7900 7.5px,#ff9700 8.5px,#ffd000 9.5px,#b2ff00 10.5px,#00ff40 11.5px,#00f7ff 12.5px,#009eff 13.5px,#0072ff 14.5px,#005aff 15.5px,#003fff 17.5px,#0029ff 21.5px,#001aff 31.5px,#0018ff 67.5px,#003dff 234.5px)"></i><i style="background:linear-gradient(90deg,#ff4300 0.5px,#ff5500 4.5px,#ff6a00 6.5px,#ff7c00 7.5px,#ff9900 8.5px,#ffd000 9.5px,#b8ff00 10.5px,#00ff35 11.5px,#00fdff 12.5px,#00a0ff 13.5px,#0073ff 14.5px,#005aff 15.5px,#003fff 17.5px,#0029ff 21.5px,#001bff 30.5px,#0017ff 63.5px,#003cff 234.5px)"></i><i style="background:linear-gradient(90deg,#ff4700 0.5px,#ff5900 4.5px,#ff6d00 6.5px,#ff7f00 7.5px,#ff9c00 8.5px,#ffd000 9.5px,#bdff00 10.5px,#00ff2a 11.5px,#00fffb 12.5px,#00a2ff 13.5px,#0074ff 14.5px,#005bff 15.5px,#003fff 17.5px,#0029ff 21.5px,#001bff 30.5px,#0017ff 63.5px,#003bff 234.5px)"></i><i style="background:linear-gradient(90deg,#ff4c00 0.5px,#ff5d00 4.5px,#ff7100 6.5px,#ff8200 7.5px,#ff9e00 8.5px,#ffd000 9.5px,#c3ff00 10.5px,#00ff1e 11.5px,#00fff5 12.5px,#00a5ff 13.5px,#0076ff 14.5px,#005bff 15.5px,#0040ff 17.5px,#0029ff 21.5px,#001aff 30.5px,#0016ff 63.5px,#003aff 234.5px)"></i><i style="background:linear-gradient(90deg,#ff5000 0.5px,#ff6100 4.5px,#ff7500 6.5px,#ff8500 7.5px,#ffa000 8.5px,#ffd000 9.5px,#c7ff00 10.5px,#00ff12 11.5px,#00ffee 12.5px,#00a8ff 13.5px,#0077ff 14.5px,#005cff 15.5px,#0040ff 17.5px,#0029ff 21.5px,#001aff 30.5px,#0016ff 63.5px,#003aff 234.5px)"></i><i style="background:linear-gradient(90deg,#ff5400 0.5px,#ff6500 4.5px,#ff7800 6.5px,#ff8900 7.5px,#ffa200 8.5px,#ffd100 9.5px,#ccff00 10.5px,#00ff07 11.5px,#00ffe7 12.5px,#00abff 13.5px,#0078ff 14.5px,#005dff 15.5px,#0040ff 17.5px,#0029ff 21.5px,#001aff 30.5px,#0016ff 63.5px,#0039ff 234.5px)"></i><i style="background:linear-gradient(90deg,#ff5900 0.5px,#ff6a00 4.5px,#ff7c00 6.5px,#ff8c00 7.5px,#ffa500 8.5px,#ffd100 9.5px,#d0ff00 10.5px,#05ff00 11.5px,#00ffe0 12.5px,#00aeff 13.5px,#0079ff 14.5px,#005dff 15.5px,#0040ff 17.5px,#0029ff 21.5px,#001aff 30.5px,#0016ff 63.5px,#0038ff 234.5px)"></i><i style="background:linear-gradient(90deg,#ff5d00 0.5px,#ff6e00 4.5px,#ff8000 6.5px,#ff8f00 7.5px,#ffa700 8.5px,#ffd200 9.5px,#d4ff00 10.5px,#10ff00 11.5px,#00ffd8 12.5px,#00b1ff 13.5px,#007bff 14.5px,#005eff 15.5px,#0040ff 17.5px,#002dff 20.5px,#001cff 28.5px,#0015ff 54.5px,#0037ff 234.5px)"></i><i style="background:linear-gradient(90deg,#ff6100 0.5px,#ff7200 4.5px,#ff8300 6.5px,#ff9200 7.5px,#ffaa00 8.5px,#ffd300 9.5px,#d7ff00 10.5px,#1bff00 11.5px,#00ffd0 12.5px,#00b4ff 13.5px,#007cff 14.5px,#005fff 15.5px,#004dff 16.5px,#0038ff 18.5px,#0023ff 23.5px,#0016ff 36.5px,#001aff 95.5px,#0036ff 234.5px)"></i><i style="background:linear-gradient(90deg,#ff6600 0.5px,#ff7600 4.5px,#ff8700 6.5px,#ff9600 7.5px,#ffac00 8.5px,#ffd400 9.5px,#daff00 10.5px,#26ff00 11.5px,#00ffc7 12.5px,#00b8ff 13.5px,#007eff 14.5px,#005fff 15.5px,#004dff 16.5px,#0038ff 18.5px,#0023ff 23.5px,#0016ff 36.5px,#0019ff 95.5px,#0036ff 234.5px)"></i><i style="background:linear-gradient(90deg,#ff6a00 0.5px,#ff7a00 4.5px,#ff8b00 6.5px,#ff9900 7.5px,#ffaf00 8.5px,#ffd500 9.5px,#ddff00 10.5px,#31ff00 11.5px,#00ffbe 12.5px,#00bbff 13.5px,#0080ff 14.5px,#0060ff 15.5px,#004dff 16.5px,#0038ff 18.5px,#0026ff 22.5px,#0017ff 33.5px,#0016ff 78.5px,#0035ff 234.5px)"></i><i style="background:linear-gradient(90deg,#ff6f00 0.5px,#ff7e00 4.5px,#ff8f00 6.5px,#ff9c00 7.5px,#ffb200 8.5px,#ffd600 9.5px,#dfff00 10.5px,#3cff00 11.5px,#00ffb4 12.5px,#00bfff 13.5px,#0081ff 14.5px,#0061ff 15.5px,#004eff 16.5px,#0038ff 18.5px,#0026ff 22.5px,#0017ff 33.5px,#0016ff 78.5px,#0034ff 234.5px)"></i><i style="background:linear-gradient(90deg,#ff7300 0.5px,#ff8200 4.5px,#ff9200 6.5px,#ffa000 7.5px,#ffb400 8.5px,#ffd700 9.5px,#e1ff00 10.5px,#46ff00 11.5px,#00ffaa 12.5px,#00c3ff 13.5px,#0083ff 14.5px,#0062ff 15.5px,#004eff 16.5px,#0038ff 18.5px,#0026ff 22.5px,#0017ff 33.5px,#0016ff 78.5px,#0033ff 234.5px)"></i><i style="background:linear-gradient(90deg,#ff7700 0.5px,#ff8600 4.5px,#ff9600 6.5px,#ffa300 7.5px,#ffb700 8.5px,#ffd900 9.5px,#e3ff00 10.5px,#4fff00 11.5px,#00ffa0 12.5px,#00c8ff 13.5px,#0085ff 14.5px,#0063ff 15.5px,#004fff 16.5px,#0039ff 18.5px,#0026ff 22.5px,#0017ff 33.5px,#0016ff 78.5px,#0033ff 234.5px)"></i><i style="background:linear-gradient(90deg,#ff7c00 0.5px,#ff8a00 4.5px,#ff9a00 6.5px,#ffa600 7.5px,#ffba00 8.5px,#ffda00 9.5px,#e5ff00 10.5px,#58ff00 11.5px,#00ff95 12.5px,#00ccff 13.5px,#0087ff 14.5px,#0064ff 15.5px,#004fff 16.5px,#0039ff 18.5px,#0025ff 22.5px,#0017ff 33.5px,#0015ff 78.5px,#0032ff 234.5px)"></i><i style="background:linear-gradient(90deg,#ff8000 0.5px,#ff9500 5.5px,#ffaa00 7.5px,#ffbd00 8.5px,#ffdc00 9.5px,#e6ff00 10.5px,#61ff00 11.5px,#00ff8a 12.5px,#00d1ff 13.5px,#0089ff 14.5px,#0065ff 15.5px,#0050ff 16.5px,#0039ff 18.5px,#0025ff 22.5px,#0017ff 33.5px,#0015ff 78.5px,#0031ff 234.5px)"></i><i style="background:linear-gradient(90deg,#ff8400 0.5px,#ff9900 5.5px,#ffad00 7.5px,#ffbf00 8.5px,#ffdd00 9.5px,#e8ff00 10.5px,#69ff00 11.5px,#00ff7e 12.5px,#00d7ff 13.5px,#008bff 14.5px,#0066ff 15.5px,#0050ff 16.5px,#0039ff 18.5px,#0025ff 22.5px,#0017ff 32.5px,#0014ff 72.5px,#0030ff 234.5px)"></i><i style="background:linear-gradient(90deg,#ff8900 0.5px,#ff9d00 5.5px,#ffb100 7.5px,#ffc200 8.5px,#ffdf00 9.5px,#e8ff00 10.5px,#71ff00 11.5px,#00ff72 12.5px,#00dcff 13.5px,#008eff 14.5px,#0067ff 15.5px,#0051ff 16.5px,#0039ff 18.5px,#0025ff 22.5px,#0017ff 32.5px,#0014ff 72.5px,#0030ff 234.5px)"></i><i style="background:linear-gradient(90deg,#ff8d00 0.5px,#ffa100 5.5px,#ffb400 7.5px,#ffc500 8.5px,#ffe100 9.5px,#e9ff00 10.5px,#78ff00 11.5px,#00ff66 12.5px,#00e2ff 13.5px,#0090ff 14.5px,#0068ff 15.5px,#0052ff 16.5px,#0039ff 18.5px,#0025ff 22.5px,#0017ff 32.5px,#0014ff 72.5px,#002fff 234.5px)"></i><i style="background:linear-gradient(90deg,#ff9200 0.5px,#ffa500 5.5px,#ffb800 7.5px,#ffc800 8.5px,#ffe300 9.5px,#eaff00 10.5px,#7fff00 11.5px,#00ff59 12.5px,#00e9ff 13.5px,#0093ff 14.5px,#006aff 15.5px,#0052ff 16.5px,#003aff 18.5px,#0025ff 22.5px,#0017ff 32.5px,#0013ff 72.5px,#002eff 234.5px)"></i><i style="background:linear-gradient(90deg,#ff9600 0.5px,#ffa900 5.5px,#ffbb00 7.5px,#ffcb00 8.5px,#ffe500 9.5px,#eaff00 10.5px,#85ff00 11.5px,#00ff4c 12.5px,#00efff 13.5px,#0096ff 14.5px,#006bff 15.5px,#0053ff 16.5px,#003aff 18.5px,#0025ff 22.5px,#0017ff 32.5px,#0013ff 72.5px,#002eff 234.5px)"></i><i style="background:linear-gradient(90deg,#ff9a00 0.5px,#ffad00 5.5px,#ffbf00 7.5px,#ffce00 8.5px,#ffe700 9.5px,#eaff00 10.5px,#8aff00 11.5px,#00ff3f 12.5px,#00f7ff 13.5px,#0099ff 14.5px,#006cff 15.5px,#0054ff 16.5px,#003aff 18.5px,#0025ff 22.5px,#0017ff 32.5px,#0013ff 72.5px,#002dff 234.5px)"></i><i style="background:linear-gradient(90deg,#ff9f00 0.5px,#ffb100 5.5px,#ffc200 7.5px,#ffd100 8.5px,#ffe900 9.5px,#eaff00 10.5px,#90ff00 11.5px,#00ff32 12.5px,#00feff 13.5px,#009cff 14.5px,#006eff 15.5px,#0054ff 16.5px,#003aff 18.5px,#0025ff 22.5px,#0016ff 32.5px,#0013ff 72.5px,#002cff 234.5px)"></i><i style="background:linear-gradient(90deg,#ffa300 0.5px,#ffb500 5.5px,#ffc600 7.5px,#ffd500 8.5px,#ffeb00 9.5px,#eaff00 10.5px,#95ff00 11.5px,#00ff26 12.5px,#00fff7 13.5px,#009fff 14.5px,#006fff 15.5px,#0055ff 16.5px,#003aff 18.5px,#0025ff 22.5px,#0016ff 32.5px,#0012ff 72.5px,#002bff 234.5px)"></i><i style="background:linear-gradient(90deg,#ffa800 0.5px,#ffb900 5.5px,#ffca00 7.5px,#ffd800 8.5px,#ffee00 9.5px,#e9ff00 10.5px,#99ff00 11.5px,#00ff19 12.5px,#00ffef 13.5px,#00a3ff 14.5px,#0071ff 15.5px,#0056ff 16.5px,#003bff 18.5px,#0025ff 22.5px,#0016ff 32.5px,#0012ff 72.5px,#002bff 234.5px)"></i><i style="background:linear-gradient(90deg,#ffac00 0.5px,#ffbd00 5.5px,#ffcd00 7.5px,#ffdb00 8.5px,#fff000 9.5px,#e9ff00 10.5px,#9dff00 11.5px,#00ff0d 12.5px,#00ffe6 13.5px,#00a6ff 14.5px,#0073ff 15.5px,#0057ff 16.5px,#003bff 18.5px,#0025ff 22.5px,#0016ff 32.5px,#0012ff 72.5px,#002aff 234.5px)"></i><i style="background:linear-gradient(90deg,#ffb000 0.5px,#ffc100 5.5px,#ffd100 7.5px,#ffde00 8.5px,#fff300 9.5px,#e8ff00 10.5px,#a0ff00 11.5px,#00ff00 12.5px,#00ffdc 13.5px,#00aaff 14.5px,#0074ff 15.5px,#0058ff 16.5px,#003bff 18.5px,#0025ff 22.5px,#0016ff 32.5px,#0012ff 72.5px,#0029ff 234.5px)"></i><i style="background:linear-gradient(90deg,#ffb500 0.5px,#ffc500 5.5px,#ffd500 7.5px,#ffe100 8.5px,#fff500 9.5px,#e7ff00 10.5px,#a3ff00 11.5px,#0bff00 12.5px,#00ffd1 13.5px,#00afff 14.5px,#0076ff 15.5px,#0059ff 16.5px,#0047ff 17.5px,#002dff 20.5px,#001cff 26.5px,#0011ff 45.5px,#001fff 174.5px,#0029ff 234.5px)"></i><i style="background:linear-gradient(90deg,#ffb900 0.5px,#ffc900 5.5px,#ffd800 7.5px,#ffe500 8.5px,#fff800 9.5px,#e6ff00 10.5px,#a6ff00 11.5px,#16ff00 12.5px,#00ffc6 13.5px,#00b3ff 14.5px,#0078ff 15.5px,#005aff 16.5px,#0048ff 17.5px,#0034ff 19.5px,#0020ff 24.5px,#0013ff 38.5px,#0015ff 110.5px,#0028ff 234.5px)"></i><i style="background:linear-gradient(90deg,#ffbe00 0.5px,#ffcd00 5.5px,#ffdc00 7.5px,#ffe800 8.5px,#fffa00 9.5px,#e5ff00 10.5px,#a9ff00 11.5px,#21ff00 12.5px,#00ffbb 13.5px,#00b8ff 14.5px,#007aff 15.5px,#005bff 16.5px,#0048ff 17.5px,#0034ff 19.5px,#0020ff 24.5px,#0013ff 38.5px,#0015ff 110.5px,#0028ff 234.5px)"></i><i style="background:linear-gradient(90deg,#ffc200 0.5px,#ffd200 5.5px,#ffe000 7.5px,#ffeb00 8.5px,#fffd00 9.5px,#e4ff00 10.5px,#abff00 11.5px,#2bff00 12.5px,#00ffaf 13.5px,#00bdff 14.5px,#007dff 15.5px,#005cff 16.5px,#0049ff 17.5px,#0034ff 19.5px,#0020ff 24.5px,#0013ff 38.5px,#0015ff 110.5px,#0027ff 234.5px)"></i><i style="background:linear-gradient(90deg,#ffc600 0.5px,#ffd600 5.5px,#ffef00 8.5px,#feff00 9.5px,#e2ff00 10.5px,#acff00 11.5px,#34ff00 12.5px,#00ffa2 13.5px,#00c3ff 14.5px,#007fff 15.5px,#005dff 16.5px,#004aff 17.5px,#0034ff 19.5px,#0022ff 23.5px,#0014ff 34.5px,#0012ff 83.5px,#0026ff 234.5px)"></i><i style="background:linear-gradient(90deg,#ffcb00 0.5px,#ffda00 5.5px,#fff200 8.5px,#fcff00 9.5px,#e1ff00 10.5px,#aeff00 11.5px,#3dff00 12.5px,#00ff95 13.5px,#00c9ff 14.5px,#0082ff 15.5px,#005eff 16.5px,#004aff 17.5px,#0034ff 19.5px,#0022ff 23.5px,#0014ff 34.5px,#0011ff 83.5px,#0026ff 234.5px)"></i><i style="background:linear-gradient(90deg,#ffcf00 0.5px,#ffde00 5.5px,#fff500 8.5px,#f9ff00 9.5px,#dfff00 10.5px,#afff00 11.5px,#46ff00 12.5px,#00ff88 13.5px,#00d0ff 14.5px,#0084ff 15.5px,#0060ff 16.5px,#004bff 17.5px,#0035ff 19.5px,#0022ff 23.5px,#0014ff 34.5px,#0011ff 83.5px,#0025ff 234.5px)"></i><i style="background:linear-gradient(90deg,#ffd400 0.5px,#ffe200 5.5px,#fff900 8.5px,#f6ff00 9.5px,#ddff00 10.5px,#b0ff00 11.5px,#4dff00 12.5px,#00ff7a 13.5px,#00d7ff 14.5px,#0087ff 15.5px,#0061ff 16.5px,#004cff 17.5px,#0035ff 19.5px,#0022ff 23.5px,#0014ff 34.5px,#0011ff 83.5px,#0024ff 234.5px)"></i><i style="background:linear-gradient(90deg,#ffd800 0.5px,#ffe600 5.5px,#fffc00 8.5px,#f3ff00 9.5px,#dbff00 10.5px,#b0ff00 11.5px,#54ff00 12.5px,#00ff6c 13.5px,#00deff 14.5px,#008aff 15.5px,#0063ff 16.5px,#004cff 17.5px,#0035ff 19.5px,#0022ff 23.5px,#0014ff 34.5px,#0011ff 83.5px,#0024ff 234.5px)"></i><i style="background:linear-gradient(90deg,#ffdc00 0.5px,#ffef00 6.5px,#feff00 8.5px,#f0ff00 9.5px,#d9ff00 10.5px,#b1ff00 11.5px,#5aff00 12.5px,#00ff5d 13.5px,#00e6ff 14.5px,#008eff 15.5px,#0064ff 16.5px,#004dff 17.5px,#0035ff 19.5px,#0022ff 23.5px,#0014ff 34.5px,#0010ff 83.5px,#0023ff 234.5px)"></i><i style="background:linear-gradient(90deg,#ffe100 0.5px,#fff300 6.5px,#fbff00 8.5px,#edff00 9.5px,#d7ff00 10.5px,#b1ff00 11.5px,#60ff00 12.5px,#00ff4f 13.5px,#00efff 14.5px,#0091ff 15.5px,#0066ff 16.5px,#004eff 17.5px,#0036ff 19.5px,#0022ff 23.5px,#0013ff 34.5px,#0010ff 83.5px,#0023ff 234.5px)"></i><i style="background:linear-gradient(90deg,#ffe500 0.5px,#fff700 6.5px,#fffe00 7.5px,#eaff00 9.5px,#d5ff00 10.5px,#b1ff00 11.5px,#65ff00 12.5px,#00ff41 13.5px,#00f8ff 14.5px,#0095ff 15.5px,#0068ff 16.5px,#004fff 17.5px,#0036ff 19.5px,#0022ff 23.5px,#0013ff 34.5px,#0010ff 83.5px,#0022ff 234.5px)"></i><i style="background:linear-gradient(90deg,#ffea00 0.5px,#fcff00 7.5px,#e7ff00 9.5px,#d3ff00 10.5px,#b1ff00 11.5px,#6aff00 12.5px,#00ff34 13.5px,#00fffc 14.5px,#0099ff 15.5px,#0069ff 16.5px,#0050ff 17.5px,#0036ff 19.5px,#0022ff 23.5px,#0013ff 34.5px,#0010ff 83.5px,#0022ff 234.5px)"></i><i style="background:linear-gradient(90deg,#ffee00 0.5px,#ffff00 6.5px,#f0ff00 8.5px,#e4ff00 9.5px,#d1ff00 10.5px,#b0ff00 11.5px,#6eff00 12.5px,#00ff26 13.5px,#00fff1 14.5px,#009eff 15.5px,#006bff 16.5px,#0051ff 17.5px,#0037ff 19.5px,#0022ff 23.5px,#0014ff 33.5px,#000fff 77.5px,#0021ff 234.5px)"></i><i style="background:linear-gradient(90deg,#fff300 0.5px,#ffff00 5.5px,#ecff00 8.5px,#e1ff00 9.5px,#ceff00 10.5px,#afff00 11.5px,#72ff00 12.5px,#00ff1a 13.5px,#00ffe6 14.5px,#00a2ff 15.5px,#006eff 16.5px,#0052ff 17.5px,#0037ff 19.5px,#0022ff 23.5px,#0014ff 33.5px,#000fff 77.5px,#0020ff 234.5px)"></i><i style="background:linear-gradient(90deg,#fff700 0.5px,#fbff00 5.5px,#e9ff00 8.5px,#ddff00 9.5px,#ccff00 10.5px,#afff00 11.5px,#75ff00 12.5px,#00ff0d 13.5px,#00ffda 14.5px,#00a7ff 15.5px,#0070ff 16.5px,#0053ff 17.5px,#0037ff 19.5px,#0022ff 23.5px,#0013ff 33.5px,#000fff 76.5px,#0020ff 234.5px)"></i><i style="background:linear-gradient(90deg,#fffb00 0.5px,#faff00 4.5px,#e5ff00 8.5px,#caff00 10.5px,#aeff00 11.5px,#77ff00 12.5px,#00ff02 13.5px,#00ffcd 14.5px,#00adff 15.5px,#0072ff 16.5px,#0055ff 17.5px,#0043ff 18.5px,#002aff 21.5px,#0019ff 27.5px,#000fff 47.5px,#001cff 206.5px,#001fff 234.5px)"></i><i style="background:linear-gradient(90deg,#feff00 0.5px,#eeff00 6.5px,#d7ff00 9.5px,#c7ff00 10.5px,#acff00 11.5px,#7aff00 12.5px,#09ff00 13.5px,#00ffbf 14.5px,#00b3ff 15.5px,#0075ff 16.5px,#0056ff 17.5px,#0044ff 18.5px,#0030ff 20.5px,#001dff 25.5px,#0010ff 39.5px,#0012ff 119.5px,#001fff 234.5px)"></i><i style="background:linear-gradient(90deg,#faff00 0.5px,#eaff00 6.5px,#d4ff00 9.5px,#c4ff00 10.5px,#abff00 11.5px,#7cff00 12.5px,#13ff00 13.5px,#00ffb1 14.5px,#00baff 15.5px,#0078ff 16.5px,#0057ff 17.5px,#0045ff 18.5px,#0030ff 20.5px,#001dff 25.5px,#0010ff 39.5px,#0011ff 119.5px,#001eff 234.5px)"></i><i style="background:linear-gradient(90deg,#f5ff00 0.5px,#e6ff00 6.5px,#d0ff00 9.5px,#c2ff00 10.5px,#aaff00 11.5px,#7dff00 12.5px,#1cff00 13.5px,#00ffa2 14.5px,#00c1ff 15.5px,#007bff 16.5px,#0059ff 17.5px,#0045ff 18.5px,#0031ff 20.5px,#001dff 25.5px,#0010ff 39.5px,#0011ff 119.5px,#001eff 234.5px)"></i><i style="background:linear-gradient(90deg,#f1ff00 0.5px,#e2ff00 6.5px,#cdff00 9.5px,#bfff00 10.5px,#a8ff00 11.5px,#7eff00 12.5px,#24ff00 13.5px,#00ff93 14.5px,#00c8ff 15.5px,#007eff 16.5px,#005aff 17.5px,#0046ff 18.5px,#0031ff 20.5px,#001dff 25.5px,#0010ff 39.5px,#0011ff 119.5px,#001dff 234.5px)"></i><i style="background:linear-gradient(90deg,#ecff00 0.5px,#deff00 6.5px,#c9ff00 9.5px,#bcff00 10.5px,#a6ff00 11.5px,#7fff00 12.5px,#2cff00 13.5px,#00ff84 14.5px,#00d1ff 15.5px,#0081ff 16.5px,#005cff 17.5px,#0047ff 18.5px,#0031ff 20.5px,#001fff 24.5px,#0011ff 36.5px,#000fff 95.5px,#001dff 234.5px)"></i><i style="background:linear-gradient(90deg,#e8ff00 0.5px,#daff00 6.5px,#c6ff00 9.5px,#b9ff00 10.5px,#a5ff00 11.5px,#80ff00 12.5px,#32ff00 13.5px,#00ff74 14.5px,#00daff 15.5px,#0085ff 16.5px,#005eff 17.5px,#0048ff 18.5px,#0031ff 20.5px,#001fff 24.5px,#0012ff 35.5px,#000eff 88.5px,#001cff 234.5px)"></i><i style="background:linear-gradient(90deg,#e4ff00 0.5px,#d6ff00 6.5px,#c3ff00 9.5px,#b6ff00 10.5px,#a3ff00 11.5px,#80ff00 12.5px,#39ff00 13.5px,#00ff65 14.5px,#00e4ff 15.5px,#0089ff 16.5px,#0060ff 17.5px,#0049ff 18.5px,#0032ff 20.5px,#001fff 24.5px,#0011ff 35.5px,#000eff 88.5px,#001cff 234.5px)"></i><i style="background:linear-gradient(90deg,#dfff00 0.5px,#d2ff00 6.5px,#bfff00 9.5px,#b3ff00 10.5px,#a1ff00 11.5px,#80ff00 12.5px,#3eff00 13.5px,#00ff56 14.5px,#00eeff 15.5px,#008eff 16.5px,#0062ff 17.5px,#004aff 18.5px,#0032ff 20.5px,#001fff 24.5px,#0011ff 35.5px,#000eff 88.5px,#001bff 234.5px)"></i><i style="background:linear-gradient(90deg,#dbff00 0.5px,#cdff00 6.5px,#bcff00 9.5px,#b0ff00 10.5px,#9fff00 11.5px,#80ff00 12.5px,#43ff00 13.5px,#00ff47 14.5px,#00faff 15.5px,#0092ff 16.5px,#0064ff 17.5px,#004bff 18.5px,#0033ff 20.5px,#001fff 24.5px,#0011ff 35.5px,#000dff 88.5px,#001bff 234.5px)"></i><i style="background:linear-gradient(90deg,#d6ff00 0.5px,#c5ff00 7.5px,#adff00 10.5px,#9cff00 11.5px,#80ff00 12.5px,#47ff00 13.5px,#00ff39 14.5px,#00fff8 15.5px,#0098ff 16.5px,#0066ff 17.5px,#004cff 18.5px,#0033ff 20.5px,#001fff 24.5px,#0011ff 35.5px,#000dff 88.5px,#001aff 234.5px)"></i><i style="background:linear-gradient(90deg,#d2ff00 0.5px,#c1ff00 7.5px,#aaff00 10.5px,#9aff00 11.5px,#7fff00 12.5px,#4aff00 13.5px,#00ff2c 14.5px,#00ffea 15.5px,#009dff 16.5px,#0069ff 17.5px,#004eff 18.5px,#0033ff 20.5px,#001fff 24.5px,#0011ff 35.5px,#000dff 88.5px,#001aff 234.5px)"></i><i style="background:linear-gradient(90deg,#cdff00 0.5px,#bdff00 7.5px,#a7ff00 10.5px,#98ff00 11.5px,#7eff00 12.5px,#4dff00 13.5px,#00ff20 14.5px,#00ffdc 15.5px,#00a4ff 16.5px,#006bff 17.5px,#004fff 18.5px,#0034ff 20.5px,#001fff 24.5px,#0011ff 35.5px,#000dff 88.5px,#0019ff 234.5px)"></i><i style="background:linear-gradient(90deg,#c9ff00 0.5px,#b9ff00 7.5px,#a4ff00 10.5px,#95ff00 11.5px,#7dff00 12.5px,#50ff00 13.5px,#00ff15 14.5px,#00ffcd 15.5px,#00aaff 16.5px,#006eff 17.5px,#0051ff 18.5px,#003fff 19.5px,#0027ff 22.5px,#0016ff 29.5px,#000cff 54.5px,#0019ff 234.5px)"></i><i style="background:linear-gradient(90deg,#c4ff00 0.5px,#b5ff00 7.5px,#a0ff00 10.5px,#93ff00 11.5px,#7cff00 12.5px,#52ff00 13.5px,#00ff0b 14.5px,#00ffbd 15.5px,#00b2ff 16.5px,#0072ff 17.5px,#0052ff 18.5px,#0040ff 19.5px,#002dff 21.5px,#001bff 26.5px,#000eff 41.5px,#0010ff 138.5px,#0018ff 234.5px)"></i><i style="background:linear-gradient(90deg,#c0ff00 0.5px,#b1ff00 7.5px,#9dff00 10.5px,#90ff00 11.5px,#7bff00 12.5px,#53ff00 13.5px,#00ff01 14.5px,#00ffad 15.5px,#00baff 16.5px,#0075ff 17.5px,#0054ff 18.5px,#0041ff 19.5px,#002dff 21.5px,#001bff 26.5px,#000eff 41.5px,#0010ff 138.5px,#0018ff 234.5px)"></i><i style="background:linear-gradient(90deg,#bcff00 0.5px,#adff00 7.5px,#9aff00 10.5px,#8dff00 11.5px,#79ff00 12.5px,#55ff00 13.5px,#07ff00 14.5px,#00ff9c 15.5px,#00c3ff 16.5px,#0079ff 17.5px,#0056ff 18.5px,#0042ff 19.5px,#002eff 21.5px,#001bff 26.5px,#000eff 41.5px,#000fff 138.5px,#0017ff 234.5px)"></i><i style="background:linear-gradient(90deg,#b7ff00 0.5px,#a9ff00 7.5px,#96ff00 10.5px,#8aff00 11.5px,#77ff00 12.5px,#56ff00 13.5px,#0eff00 14.5px,#00ff8b 15.5px,#00cdff 16.5px,#007dff 17.5px,#0058ff 18.5px,#0043ff 19.5px,#002eff 21.5px,#001bff 26.5px,#000eff 41.5px,#000fff 138.5px,#0017ff 234.5px)"></i><i style="background:linear-gradient(90deg,#b3ff00 0.5px,#a5ff00 7.5px,#93ff00 10.5px,#88ff00 11.5px,#76ff00 12.5px,#56ff00 13.5px,#15ff00 14.5px,#00ff7b 15.5px,#00d8ff 16.5px,#0082ff 17.5px,#005aff 18.5px,#0044ff 19.5px,#002eff 21.5px,#001dff 25.5px,#000fff 37.5px,#000cff 102.5px,#0017ff 234.5px)"></i><i style="background:linear-gradient(90deg,#aeff00 0.5px,#a1ff00 7.5px,#8fff00 10.5px,#85ff00 11.5px,#74ff00 12.5px,#56ff00 13.5px,#1bff00 14.5px,#00ff6b 15.5px,#00e4ff 16.5px,#0086ff 17.5px,#005cff 18.5px,#0046ff 19.5px,#002fff 21.5px,#001dff 25.5px,#000fff 37.5px,#000cff 102.5px,#0016ff 234.5px)"></i><i style="background:linear-gradient(90deg,#aaff00 0.5px,#9cff00 7.5px,#8cff00 10.5px,#72ff00 12.5px,#56ff00 13.5px,#20ff00 14.5px,#00ff5b 15.5px,#00f1ff 16.5px,#008cff 17.5px,#005fff 18.5px,#0047ff 19.5px,#002fff 21.5px,#001dff 25.5px,#000fff 37.5px,#000cff 102.5px,#0016ff 234.5px)"></i><i style="background:linear-gradient(90deg,#a5ff00 0.5px,#98ff00 7.5px,#88ff00 10.5px,#70ff00 12.5px,#56ff00 13.5px,#24ff00 14.5px,#00ff4d 15.5px,#00ffff 16.5px,#0092ff 17.5px,#0061ff 18.5px,#0048ff 19.5px,#0030ff 21.5px,#001dff 25.5px,#000fff 37.5px,#000cff 101.5px,#0015ff 234.5px)"></i><i style="background:linear-gradient(90deg,#a1ff00 0.5px,#90ff00 8.5px,#7cff00 11.5px,#6dff00 12.5px,#55ff00 13.5px,#27ff00 14.5px,#00ff40 15.5px,#00ffef 16.5px,#0099ff 17.5px,#0064ff 18.5px,#004aff 19.5px,#0030ff 21.5px,#001dff 25.5px,#0010ff 36.5px,#000bff 94.5px,#0015ff 234.5px)"></i><i style="background:linear-gradient(90deg,#9cff00 0.5px,#8cff00 8.5px,#78ff00 11.5px,#6bff00 12.5px,#55ff00 13.5px,#2aff00 14.5px,#00ff33 15.5px,#00ffdf 16.5px,#00a0ff 17.5px,#0067ff 18.5px,#004bff 19.5px,#0031ff 21.5px,#001dff 25.5px,#000fff 36.5px,#000bff 93.5px,#0014ff 234.5px)"></i><i style="background:linear-gradient(90deg,#98ff00 0.5px,#88ff00 8.5px,#75ff00 11.5px,#68ff00 12.5px,#54ff00 13.5px,#2dff00 14.5px,#00ff28 15.5px,#00ffce 16.5px,#00a8ff 17.5px,#006bff 18.5px,#004dff 19.5px,#003cff 20.5px,#0025ff 23.5px,#0014ff 30.5px,#000bff 56.5px,#0014ff 234.5px)"></i><i style="background:linear-gradient(90deg,#93ff00 0.5px,#84ff00 8.5px,#72ff00 11.5px,#66ff00 12.5px,#52ff00 13.5px,#2fff00 14.5px,#00ff1e 15.5px,#00ffbc 16.5px,#00b1ff 17.5px,#006fff 18.5px,#004fff 19.5px,#003dff 20.5px,#002aff 22.5px,#0019ff 27.5px,#000dff 43.5px,#000fff 162.5px,#0014ff 234.5px)"></i><i style="background:linear-gradient(90deg,#8fff00 0.5px,#80ff00 8.5px,#6fff00 11.5px,#63ff00 12.5px,#51ff00 13.5px,#30ff00 14.5px,#00ff16 15.5px,#00ffaa 16.5px,#00bbff 17.5px,#0073ff 18.5px,#0051ff 19.5px,#003eff 20.5px,#002bff 22.5px,#0019ff 27.5px,#000dff 43.5px,#000eff 162.5px,#0013ff 234.5px)"></i><i style="background:linear-gradient(90deg,#8bff00 0.5px,#7cff00 8.5px,#6bff00 11.5px,#60ff00 12.5px,#4fff00 13.5px,#31ff00 14.5px,#00ff0e 15.5px,#00ff99 16.5px,#00c7ff 17.5px,#0078ff 18.5px,#0053ff 19.5px,#0040ff 20.5px,#002bff 22.5px,#0019ff 27.5px,#000cff 43.5px,#000eff 162.5px,#0013ff 234.5px)"></i><i style="background:linear-gradient(90deg,#86ff00 0.5px,#78ff00 8.5px,#68ff00 11.5px,#4eff00 13.5px,#32ff00 14.5px,#00ff08 15.5px,#00ff87 16.5px,#00d3ff 17.5px,#007dff 18.5px,#0056ff 19.5px,#0041ff 20.5px,#002cff 22.5px,#0019ff 27.5px,#000dff 42.5px,#000dff 150.5px,#0013ff 234.5px)"></i><i style="background:linear-gradient(90deg,#82ff00 0.5px,#74ff00 8.5px,#65ff00 11.5px,#4cff00 13.5px,#32ff00 14.5px,#00ff02 15.5px,#00ff76 16.5px,#00e1ff 17.5px,#0083ff 18.5px,#0058ff 19.5px,#0042ff 20.5px,#002cff 22.5px,#001bff 26.5px,#000eff 38.5px,#000bff 108.5px,#0012ff 234.5px)"></i><i style="background:linear-gradient(90deg,#7dff00 0.5px,#70ff00 8.5px,#61ff00 11.5px,#4aff00 13.5px,#32ff00 14.5px,#03ff00 15.5px,#00ff67 16.5px,#00f0ff 17.5px,#0089ff 18.5px,#005bff 19.5px,#0044ff 20.5px,#002dff 22.5px,#001bff 26.5px,#000eff 38.5px,#000aff 108.5px,#0012ff 234.5px)"></i><i style="background:linear-gradient(90deg,#79ff00 0.5px,#6cff00 8.5px,#5eff00 11.5px,#48ff00 13.5px,#31ff00 14.5px,#07ff00 15.5px,#00ff58 16.5px,#00fffd 17.5px,#0090ff 18.5px,#005fff 19.5px,#0046ff 20.5px,#002dff 22.5px,#001bff 26.5px,#000eff 38.5px,#000aff 108.5px,#0011ff 234.5px)"></i><i style="background:linear-gradient(90deg,#74ff00 0.5px,#68ff00 8.5px,#5aff00 11.5px,#45ff00 13.5px,#31ff00 14.5px,#0aff00 15.5px,#00ff4c 16.5px,#00ffec 17.5px,#0099ff 18.5px,#0062ff 19.5px,#0047ff 20.5px,#002eff 22.5px,#001bff 26.5px,#000eff 38.5px,#000aff 108.5px,#0011ff 234.5px)"></i><i style="background:linear-gradient(90deg,#70ff00 0.5px,#60ff00 9.5px,#4fff00 12.5px,#43ff00 13.5px,#30ff00 14.5px,#0dff00 15.5px,#00ff40 16.5px,#00ffd9 17.5px,#00a2ff 18.5px,#0066ff 19.5px,#0049ff 20.5px,#002fff 22.5px,#001bff 26.5px,#000eff 38.5px,#000aff 107.5px,#0011ff 234.5px)"></i><i style="background:linear-gradient(90deg,#6bff00 0.5px,#5cff00 9.5px,#4bff00 12.5px,#40ff00 13.5px,#2fff00 14.5px,#0fff00 15.5px,#00ff36 16.5px,#00ffc6 17.5px,#00acff 18.5px,#006aff 19.5px,#004bff 20.5px,#003aff 21.5px,#0023ff 24.5px,#0013ff 31.5px,#0009ff 59.5px,#0010ff 234.5px)"></i><i style="background:linear-gradient(90deg,#67ff00 0.5px,#58ff00 9.5px,#48ff00 12.5px,#3eff00 13.5px,#2dff00 14.5px,#10ff00 15.5px,#00ff2d 16.5px,#00ffb3 17.5px,#00b8ff 18.5px,#006fff 19.5px,#004eff 20.5px,#003bff 21.5px,#0029ff 23.5px,#0017ff 28.5px,#000bff 45.5px,#000dff 190.5px,#0010ff 234.5px)"></i><i style="background:linear-gradient(90deg,#62ff00 0.5px,#54ff00 9.5px,#45ff00 12.5px,#2cff00 14.5px,#11ff00 15.5px,#00ff26 16.5px,#00ffa0 17.5px,#00c5ff 18.5px,#0075ff 19.5px,#0050ff 20.5px,#003dff 21.5px,#0029ff 23.5px,#0017ff 28.5px,#000bff 44.5px,#000cff 175.5px,#0010ff 234.5px)"></i><i style="background:linear-gradient(90deg,#5eff00 0.5px,#50ff00 9.5px,#42ff00 12.5px,#2aff00 14.5px,#12ff00 15.5px,#00ff20 16.5px,#00ff8e 17.5px,#00d3ff 18.5px,#007bff 19.5px,#0053ff 20.5px,#003eff 21.5px,#002aff 23.5px,#0017ff 28.5px,#000bff 44.5px,#000cff 175.5px,#000fff 234.5px)"></i><i style="background:linear-gradient(90deg,#59ff00 0.5px,#4cff00 9.5px,#3eff00 12.5px,#28ff00 14.5px,#12ff00 15.5px,#00ff1a 16.5px,#00ff7d 17.5px,#00e3ff 18.5px,#0082ff 19.5px,#0056ff 20.5px,#0040ff 21.5px,#002aff 23.5px,#0017ff 28.5px,#000bff 44.5px,#000cff 175.5px,#000fff 234.5px)"></i><i style="background:linear-gradient(90deg,#55ff00 0.5px,#48ff00 9.5px,#3bff00 12.5px,#26ff00 14.5px,#11ff00 15.5px,#00ff16 16.5px,#00ff6e 17.5px,#00f5ff 18.5px,#008aff 19.5px,#005aff 20.5px,#0042ff 21.5px,#002bff 23.5px,#001aff 27.5px,#000cff 40.5px,#0009ff 125.5px,#000fff 234.5px)"></i><i style="background:linear-gradient(90deg,#50ff00 0.5px,#44ff00 9.5px,#2fff00 13.5px,#24ff00 14.5px,#11ff00 15.5px,#00ff13 16.5px,#00ff60 17.5px,#00fff6 18.5px,#0093ff 19.5px,#005eff 20.5px,#0044ff 21.5px,#002cff 23.5px,#001aff 27.5px,#000dff 39.5px,#0009ff 115.5px,#000eff 234.5px)"></i><i style="background:linear-gradient(90deg,#4cff00 0.5px,#40ff00 9.5px,#2cff00 13.5px,#22ff00 14.5px,#10ff00 15.5px,#00ff10 16.5px,#00ff55 17.5px,#00ffe2 18.5px,#009dff 19.5px,#0062ff 20.5px,#0046ff 21.5px,#002cff 23.5px,#001aff 27.5px,#000dff 39.5px,#0009ff 114.5px,#000eff 234.5px)"></i><i style="background:linear-gradient(90deg,#47ff00 0.5px,#39ff00 10.5px,#29ff00 13.5px,#0fff00 15.5px,#00ff0e 16.5px,#00ff4b 17.5px,#00ffcd 18.5px,#00a8ff 19.5px,#0067ff 20.5px,#0048ff 21.5px,#0038ff 22.5px,#0021ff 25.5px,#0012ff 32.5px,#0008ff 61.5px,#000eff 234.5px)"></i><i style="background:linear-gradient(90deg,#43ff00 0.5px,#35ff00 10.5px,#26ff00 13.5px,#0eff00 15.5px,#00ff0c 16.5px,#00ff42 17.5px,#00ffb9 18.5px,#00b6ff 19.5px,#006dff 20.5px,#004bff 21.5px,#0039ff 22.5px,#0027ff 24.5px,#0016ff 29.5px,#000aff 46.5px,#000cff 207.5px,#000dff 234.5px)"></i><i style="background:linear-gradient(90deg,#3eff00 0.5px,#31ff00 10.5px,#23ff00 13.5px,#0cff00 15.5px,#00ff0b 16.5px,#00ff3b 17.5px,#00ffa5 18.5px,#00c5ff 19.5px,#0073ff 20.5px,#004eff 21.5px,#003bff 22.5px,#0027ff 24.5px,#0016ff 29.5px,#000aff 46.5px,#000cff 207.5px,#000dff 234.5px)"></i><i style="background:linear-gradient(90deg,#3aff00 0.5px,#2dff00 10.5px,#1fff00 13.5px,#0bff00 15.5px,#00ff0b 16.5px,#00ff35 17.5px,#00ff93 18.5px,#00d6ff 19.5px,#007aff 20.5px,#0051ff 21.5px,#003cff 22.5px,#0028ff 24.5px,#0016ff 29.5px,#000aff 46.5px,#000cff 207.5px,#000dff 234.5px)"></i><i style="background:linear-gradient(90deg,#35ff00 0.5px,#29ff00 10.5px,#1cff00 13.5px,#09ff00 15.5px,#00ff0b 16.5px,#00ff30 17.5px,#00ff83 18.5px,#00e9ff 19.5px,#0082ff 20.5px,#0055ff 21.5px,#003eff 22.5px,#0028ff 24.5px,#0016ff 29.5px,#000aff 45.5px,#000bff 190.5px,#000dff 234.5px)"></i><i style="background:linear-gradient(90deg,#31ff00 0.5px,#25ff00 10.5px,#11ff00 14.5px,#06ff00 15.5px,#00ff0b 16.5px,#00ff2c 17.5px,#00ff75 18.5px,#00fdff 19.5px,#008cff 20.5px,#0059ff 21.5px,#0040ff 22.5px,#0029ff 24.5px,#0018ff 28.5px,#000cff 41.5px,#0008ff 133.5px,#000cff 234.5px)"></i><i style="background:linear-gradient(90deg,#2cff00 0.5px,#21ff00 10.5px,#0eff00 14.5px,#04ff00 15.5px,#00ff0c 16.5px,#00ff29 17.5px,#00ff68 18.5px,#00ffeb 19.5px,#0097ff 20.5px,#005eff 21.5px,#0043ff 22.5px,#002aff 24.5px,#0018ff 28.5px,#000bff 41.5px,#0008ff 133.5px,#000cff 234.5px)"></i><i style="background:linear-gradient(90deg,#28ff00 0.5px,#1cff00 10.5px,#0bff00 14.5px,#02ff00 15.5px,#00ff0d 16.5px,#00ff27 17.5px,#00ff5e 18.5px,#00ffd6 19.5px,#00a4ff 20.5px,#0063ff 21.5px,#0045ff 22.5px,#0035ff 23.5px,#001fff 26.5px,#0010ff 34.5px,#0007ff 70.5px,#000cff 234.5px)"></i><i style="background:linear-gradient(90deg,#23ff00 0.5px,#16ff00 11.5px,#08ff00 14.5px,#00ff01 15.5px,#00ff0e 16.5px,#00ff26 17.5px,#00ff56 18.5px,#00ffc0 19.5px,#00b3ff 20.5px,#006aff 21.5px,#0048ff 22.5px,#0037ff 23.5px,#0025ff 25.5px,#0015ff 30.5px,#0009ff 48.5px,#000bff 234.5px)"></i><i style="background:linear-gradient(90deg,#1fff00 0.5px,#12ff00 11.5px,#00ff03 15.5px,#00ff10 16.5px,#00ff25 17.5px,#00ff4f 18.5px,#00ffac 19.5px,#00c4ff 20.5px,#0071ff 21.5px,#004cff 22.5px,#0039ff 23.5px,#0025ff 25.5px,#0015ff 30.5px,#0009ff 48.5px,#000bff 234.5px)"></i><i style="background:linear-gradient(90deg,#1aff00 0.5px,#0eff00 11.5px,#01ff00 14.5px,#00ff11 16.5px,#00ff24 17.5px,#00ff49 18.5px,#00ff9b 19.5px,#00d8ff 20.5px,#0079ff 21.5px,#0050ff 22.5px,#003bff 23.5px,#0026ff 25.5px,#0015ff 30.5px,#0009ff 47.5px,#000bff 226.5px,#000bff 234.5px)"></i><i style="background:linear-gradient(90deg,#16ff00 0.5px,#0aff00 11.5px,#00ff02 14.5px,#00ff13 16.5px,#00ff24 17.5px,#00ff44 18.5px,#00ff8b 19.5px,#00edff 20.5px,#0083ff 21.5px,#0054ff 22.5px,#003dff 23.5px,#0027ff 25.5px,#0015ff 30.5px,#0009ff 47.5px,#000aff 226.5px,#000bff 234.5px)"></i><i style="background:linear-gradient(90deg,#11ff00 0.5px,#06ff00 11.5px,#00ff05 14.5px,#00ff15 16.5px,#00ff25 17.5px,#00ff41 18.5px,#00ff7e 19.5px,#00fffb 20.5px,#008fff 21.5px,#0059ff 22.5px,#003fff 23.5px,#0028ff 25.5px,#0017ff 29.5px,#000bff 42.5px,#0007ff 142.5px,#000aff 234.5px)"></i><i style="background:linear-gradient(90deg,#0dff00 0.5px,#00ff01 12.5px,#00ff0f 15.5px,#00ff26 17.5px,#00ff3f 18.5px,#00ff72 19.5px,#00ffe3 20.5px,#009dff 21.5px,#005fff 22.5px,#0042ff 23.5px,#0029ff 25.5px,#0017ff 29.5px,#000bff 42.5px,#0007ff 141.5px,#000aff 234.5px)"></i><i style="background:linear-gradient(90deg,#08ff00 0.5px,#00ff03 11.5px,#00ff12 15.5px,#00ff27 17.5px,#00ff3d 18.5px,#00ff69 19.5px,#00ffcd 20.5px,#00adff 21.5px,#0065ff 22.5px,#0045ff 23.5px,#0034ff 24.5px,#001eff 27.5px,#000fff 35.5px,#0007ff 73.5px,#000aff 234.5px)"></i><i style="background:linear-gradient(90deg,#04ff00 0.5px,#00ff05 10.5px,#00ff15 15.5px,#00ff28 17.5px,#00ff3c 18.5px,#00ff62 19.5px,#00ffb8 20.5px,#00bfff 21.5px,#006dff 22.5px,#0049ff 23.5px,#0036ff 24.5px,#0024ff 26.5px,#0014ff 31.5px,#0008ff 50.5px,#000aff 234.5px)"></i><i style="background:linear-gradient(90deg,#00ff01 0.5px,#00ff0d 12.5px,#00ff1f 16.5px,#00ff2a 17.5px,#00ff3b 18.5px,#00ff5c 19.5px,#00ffa6 20.5px,#00d4ff 21.5px,#0077ff 22.5px,#004dff 23.5px,#0038ff 24.5px,#0024ff 26.5px,#0014ff 31.5px,#0009ff 49.5px,#0009ff 234.5px)"></i><i style="background:linear-gradient(90deg,#00ff05 0.5px,#00ff11 12.5px,#00ff22 16.5px,#00ff3b 18.5px,#00ff58 19.5px,#00ff96 20.5px,#00ebff 21.5px,#0082ff 22.5px,#0052ff 23.5px,#003bff 24.5px,#0025ff 26.5px,#0014ff 31.5px,#0009ff 49.5px,#0009ff 234.5px)"></i><i style="background:linear-gradient(90deg,#00ff0a 0.5px,#00ff15 12.5px,#00ff25 16.5px,#00ff3c 18.5px,#00ff55 19.5px,#00ff8a 20.5px,#00fffa 21.5px,#008fff 22.5px,#0058ff 23.5px,#003eff 24.5px,#0026ff 26.5px,#0016ff 30.5px,#000aff 44.5px,#0007ff 166.5px,#0009ff 234.5px)"></i><i style="background:linear-gradient(90deg,#00ff0e 0.5px,#00ff19 12.5px,#00ff28 16.5px,#00ff3d 18.5px,#00ff52 19.5px,#00ff7f 20.5px,#00ffe2 21.5px,#009fff 22.5px,#005eff 23.5px,#0041ff 24.5px,#0031ff 25.5px,#001cff 28.5px,#000eff 36.5px,#0006ff 77.5px,#0009ff 234.5px)"></i><i style="background:linear-gradient(90deg,#00ff13 0.5px,#00ff1d 12.5px,#00ff2b 16.5px,#00ff3e 18.5px,#00ff51 19.5px,#00ff77 20.5px,#00ffcc 21.5px,#00b2ff 22.5px,#0066ff 23.5px,#0045ff 24.5px,#0033ff 25.5px,#0022ff 27.5px,#0011ff 33.5px,#0007ff 57.5px,#0008ff 234.5px)"></i><i style="background:linear-gradient(90deg,#00ff17 0.5px,#00ff24 13.5px,#00ff35 17.5px,#00ff3f 18.5px,#00ff50 19.5px,#00ff70 20.5px,#00ffb8 21.5px,#00c8ff 22.5px,#0070ff 23.5px,#0049ff 24.5px,#0035ff 25.5px,#0023ff 27.5px,#0013ff 32.5px,#0008ff 51.5px,#0008ff 234.5px)"></i><i style="background:linear-gradient(90deg,#00ff1c 0.5px,#00ff28 13.5px,#00ff38 17.5px,#00ff50 19.5px,#00ff6b 20.5px,#00ffa7 21.5px,#00e0ff 22.5px,#007cff 23.5px,#004eff 24.5px,#0038ff 25.5px,#0024ff 27.5px,#0013ff 32.5px,#0008ff 51.5px,#0008ff 234.5px)"></i><i style="background:linear-gradient(90deg,#00ff20 0.5px,#00ff2c 13.5px,#00ff3b 17.5px,#00ff50 19.5px,#00ff68 20.5px,#00ff9a 21.5px,#00f9ff 22.5px,#008aff 23.5px,#0054ff 24.5px,#003bff 25.5px,#0025ff 27.5px,#0013ff 32.5px,#0008ff 50.5px,#0008ff 234.5px)"></i><i style="background:linear-gradient(90deg,#00ff25 0.5px,#00ff30 13.5px,#00ff3e 17.5px,#00ff51 19.5px,#00ff65 20.5px,#00ff8f 21.5px,#00ffeb 22.5px,#009bff 23.5px,#005bff 24.5px,#003fff 25.5px,#0026ff 27.5px,#0015ff 31.5px,#0009ff 45.5px,#0006ff 177.5px,#0008ff 234.5px)"></i><i style="background:linear-gradient(90deg,#00ff29 0.5px,#00ff34 13.5px,#00ff41 17.5px,#00ff52 19.5px,#00ff64 20.5px,#00ff86 21.5px,#00ffd4 22.5px,#00afff 23.5px,#0064ff 24.5px,#0043ff 25.5px,#0031ff 26.5px,#0020ff 28.5px,#0010ff 34.5px,#0007ff 59.5px,#0007ff 234.5px)"></i><i style="background:linear-gradient(90deg,#00ff2e 0.5px,#00ff3a 14.5px,#00ff4a 18.5px,#00ff54 19.5px,#00ff63 20.5px,#00ff80 21.5px,#00ffc0 22.5px,#00c7ff 23.5px,#006fff 24.5px,#0047ff 25.5px,#0034ff 26.5px,#0021ff 28.5px,#0012ff 33.5px,#0007ff 53.5px,#0007ff 234.5px)"></i><i style="background:linear-gradient(90deg,#00ff32 0.5px,#00ff3e 14.5px,#00ff4d 18.5px,#00ff63 20.5px,#00ff7b 21.5px,#00ffb0 22.5px,#00e1ff 23.5px,#007cff 24.5px,#004dff 25.5px,#0037ff 26.5px,#0022ff 28.5px,#0012ff 33.5px,#0007ff 52.5px,#0007ff 234.5px)"></i><i style="background:linear-gradient(90deg,#00ff37 0.5px,#00ff42 14.5px,#00ff50 18.5px,#00ff63 20.5px,#00ff78 21.5px,#00ffa3 22.5px,#00fcff 23.5px,#008cff 24.5px,#0054ff 25.5px,#003aff 26.5px,#0024ff 28.5px,#0012ff 33.5px,#0007ff 52.5px,#0007ff 234.5px)"></i><i style="background:linear-gradient(90deg,#00ff3b 0.5px,#00ff46 14.5px,#00ff53 18.5px,#00ff64 20.5px,#00ff76 21.5px,#00ff99 22.5px,#00ffe9 23.5px,#00a0ff 24.5px,#005dff 25.5px,#003eff 26.5px,#002eff 27.5px,#001aff 30.5px,#000dff 38.5px,#0005ff 83.5px,#0007ff 234.5px)"></i><i style="background:linear-gradient(90deg,#00ff40 0.5px,#00ff4c 15.5px,#00ff5c 19.5px,#00ff65 20.5px,#00ff75 21.5px,#00ff92 22.5px,#00ffd3 23.5px,#00b8ff 24.5px,#0067ff 25.5px,#0043ff 26.5px,#0031ff 27.5px,#0020ff 29.5px,#0010ff 35.5px,#0006ff 61.5px,#0006ff 234.5px)"></i><i style="background:linear-gradient(90deg,#00ff45 0.5px,#00ff50 15.5px,#00ff5f 19.5px,#00ff74 21.5px,#00ff8c 22.5px,#00ffc1 23.5px,#00d3ff 24.5px,#0074ff 25.5px,#0049ff 26.5px,#0034ff 27.5px,#0021ff 29.5px,#0011ff 34.5px,#0007ff 54.5px,#0006ff 234.5px)"></i><i style="background:linear-gradient(90deg,#00ff49 0.5px,#00ff54 15.5px,#00ff61 19.5px,#00ff74 21.5px,#00ff88 22.5px,#00ffb3 23.5px,#00efff 24.5px,#0085ff 25.5px,#0050ff 26.5px,#0037ff 27.5px,#0022ff 29.5px,#0011ff 34.5px,#0007ff 54.5px,#0006ff 234.5px)"></i><i style="background:linear-gradient(90deg,#00ff4e 0.5px,#00ff58 15.5px,#00ff64 19.5px,#00ff75 21.5px,#00ff86 22.5px,#00ffa8 23.5px,#00fff4 24.5px,#0099ff 25.5px,#0059ff 26.5px,#003cff 27.5px,#002cff 28.5px,#0019ff 31.5px,#000bff 40.5px,#0004ff 96.5px,#0006ff 234.5px)"></i><i style="background:linear-gradient(90deg,#00ff52 0.5px,#00ff5c 15.5px,#00ff67 19.5px,#00ff76 21.5px,#00ff84 22.5px,#00ffa0 23.5px,#00ffdd 24.5px,#00b2ff 25.5px,#0064ff 26.5px,#0041ff 27.5px,#002fff 28.5px,#001eff 30.5px,#000fff 36.5px,#0006ff 63.5px,#0006ff 234.5px)"></i><i style="background:linear-gradient(90deg,#00ff57 0.5px,#00ff62 16.5px,#00ff70 20.5px,#00ff84 22.5px,#00ff9a 23.5px,#00ffcb 24.5px,#00cfff 25.5px,#0072ff 26.5px,#0047ff 27.5px,#0032ff 28.5px,#0020ff 30.5px,#0011ff 35.5px,#0006ff 56.5px,#0006ff 234.5px)"></i><i style="background:linear-gradient(90deg,#00ff5b 0.5px,#00ff66 16.5px,#00ff73 20.5px,#00ff84 22.5px,#00ff97 23.5px,#00ffbd 24.5px,#00ecff 25.5px,#0084ff 26.5px,#004fff 27.5px,#0036ff 28.5px,#0021ff 30.5px,#0011ff 35.5px,#0006ff 55.5px,#0005ff 234.5px)"></i><i style="background:linear-gradient(90deg,#00ff60 0.5px,#00ff6a 16.5px,#00ff75 20.5px,#00ff85 22.5px,#00ff94 23.5px,#00ffb3 24.5px,#00fff7 25.5px,#009bff 26.5px,#0058ff 27.5px,#003bff 28.5px,#002cff 29.5px,#0018ff 32.5px,#000bff 41.5px,#0004ff 100.5px,#0005ff 234.5px)"></i><i style="background:linear-gradient(90deg,#00ff64 0.5px,#00ff6e 16.5px,#00ff7e 21.5px,#00ff93 23.5px,#00ffab 24.5px,#00ffe1 25.5px,#00b7ff 26.5px,#0065ff 27.5px,#0040ff 28.5px,#002fff 29.5px,#001eff 31.5px,#000eff 37.5px,#0005ff 65.5px,#0005ff 234.5px)"></i><i style="background:linear-gradient(90deg,#00ff69 0.5px,#00ff74 17.5px,#00ff80 21.5px,#00ff92 23.5px,#00ffa6 24.5px,#00ffd0 25.5px,#00d5ff 26.5px,#0076ff 27.5px,#0048ff 28.5px,#0032ff 29.5px,#001fff 31.5px,#0010ff 36.5px,#0006ff 58.5px,#0005ff 234.5px)"></i><i style="background:linear-gradient(90deg,#00ff6d 0.5px,#00ff77 17.5px,#00ff83 21.5px,#00ff93 23.5px,#00ffa3 24.5px,#00ffc3 25.5px,#00f3ff 26.5px,#008bff 27.5px,#0051ff 28.5px,#0037ff 29.5px,#0021ff 31.5px,#0010ff 36.5px,#0006ff 57.5px,#0005ff 234.5px)"></i><i style="background:linear-gradient(90deg,#00ff72 0.5px,#00ff7b 17.5px,#00ff8b 22.5px,#00ffa1 24.5px,#00ffba 25.5px,#00fff2 26.5px,#00a6ff 27.5px,#005dff 28.5px,#003cff 29.5px,#002cff 30.5px,#0018ff 33.5px,#000aff 42.5px,#0004ff 104.5px,#0005ff 234.5px)"></i><i style="background:linear-gradient(90deg,#00ff77 0.5px,#00ff81 18.5px,#00ff8e 22.5px,#00ffa0 24.5px,#00ffb4 25.5px,#00ffdf 26.5px,#00c5ff 27.5px,#006dff 28.5px,#0043ff 29.5px,#002fff 30.5px,#001dff 32.5px,#000eff 38.5px,#0005ff 66.5px,#0005ff 234.5px)"></i><i style="background:linear-gradient(90deg,#00ff7b 0.5px,#00ff85 18.5px,#00ff90 22.5px,#00ffa0 24.5px,#00ffb0 25.5px,#00ffd0 26.5px,#00e5ff 27.5px,#0082ff 28.5px,#004cff 29.5px,#0034ff 30.5px,#001fff 32.5px,#0010ff 37.5px,#0006ff 59.5px,#0004ff 234.5px)"></i><i style="background:linear-gradient(90deg,#00ff80 0.5px,#00ff89 18.5px,#00ff99 23.5px,#00ffae 25.5px,#00ffc7 26.5px,#00fffe 27.5px,#009dff 28.5px,#0058ff 29.5px,#0039ff 30.5px,#002aff 31.5px,#0017ff 34.5px,#000aff 43.5px,#0003ff 109.5px,#0004ff 234.5px)"></i><i style="background:linear-gradient(90deg,#00ff84 0.5px,#00ff8f 19.5px,#00ff9b 23.5px,#00ffac 25.5px,#00ffc0 26.5px,#00ffe9 27.5px,#00bdff 28.5px,#0068ff 29.5px,#0040ff 30.5px,#002dff 31.5px,#001cff 33.5px,#000dff 39.5px,#0004ff 69.5px,#0004ff 234.5px)"></i><i style="background:linear-gradient(90deg,#00ff89 0.5px,#00ff93 19.5px,#00ff9e 23.5px,#00ffac 25.5px,#00ffbc 26.5px,#00ffdb 27.5px,#00deff 28.5px,#007eff 29.5px,#004aff 30.5px,#0032ff 31.5px,#001eff 33.5px,#000fff 38.5px,#0005ff 61.5px,#0004ff 234.5px)"></i><i style="background:linear-gradient(90deg,#00ff8d 0.5px,#00ff97 19.5px,#00ffa5 24.5px,#00ffb9 26.5px,#00ffd1 27.5px,#00f9ff 28.5px,#009bff 29.5px,#0056ff 30.5px,#0038ff 31.5px,#0029ff 32.5px,#0016ff 35.5px,#000aff 44.5px,#0003ff 113.5px,#0004ff 234.5px)"></i><i style="background:linear-gradient(90deg,#00ff92 0.5px,#00ff9c 20.5px,#00ffa8 24.5px,#00ffb8 26.5px,#00ffca 27.5px,#00fff0 28.5px,#00bdff 29.5px,#0068ff 30.5px,#0040ff 31.5px,#002dff 32.5px,#001cff 34.5px,#000dff 40.5px,#0004ff 71.5px,#0004ff 234.5px)"></i><i style="background:linear-gradient(90deg,#00ff96 0.5px,#00ffa0 20.5px,#00ffb0 25.5px,#00ffc6 27.5px,#00ffe2 28.5px,#00deff 29.5px,#0081ff 30.5px,#004aff 31.5px,#0032ff 32.5px,#001dff 34.5px,#000fff 39.5px,#0005ff 62.5px,#0004ff 234.5px)"></i><i style="background:linear-gradient(90deg,#00ff9b 0.5px,#00ffa4 20.5px,#00ffb2 25.5px,#00ffc4 27.5px,#00ffd8 28.5px,#00f9ff 29.5px,#00a0ff 30.5px,#0059ff 31.5px,#0038ff 32.5px,#0028ff 33.5px,#0016ff 36.5px,#0009ff 45.5px,#0003ff 117.5px,#0003ff 234.5px)"></i><i style="background:linear-gradient(90deg,#00ffa0 0.5px,#00ffa9 21.5px,#00ffb4 25.5px,#00ffc3 27.5px,#00ffd2 28.5px,#00fff3 29.5px,#00c4ff 30.5px,#006dff 31.5px,#0041ff 32.5px,#002dff 33.5px,#001bff 35.5px,#000dff 41.5px,#0004ff 73.5px,#0003ff 234.5px)"></i><i style="background:linear-gradient(90deg,#00ffa4 0.5px,#00ffad 21.5px,#00ffbb 26.5px,#00ffcf 28.5px,#00ffe6 29.5px,#00e4ff 30.5px,#008aff 31.5px,#004eff 32.5px,#0033ff 33.5px,#001dff 35.5px,#000eff 40.5px,#0005ff 63.5px,#0003ff 234.5px)"></i><i style="background:linear-gradient(90deg,#00ffa9 0.5px,#00ffb3 22.5px,#00ffbe 26.5px,#00ffcd 28.5px,#00ffde 29.5px,#00fbff 30.5px,#0060ff 32.5px,#003bff 33.5px,#0029ff 34.5px,#001aff 36.5px,#000cff 42.5px,#0004ff 76.5px,#0003ff 234.5px)"></i><i style="background:linear-gradient(90deg,#00ffad 0.5px,#00ffb6 22.5px,#00ffc5 27.5px,#00ffda 29.5px,#00fff3 30.5px,#00d1ff 31.5px,#007aff 32.5px,#0046ff 33.5px,#002fff 34.5px,#001cff 36.5px,#000eff 41.5px,#0004ff 66.5px,#0003ff 234.5px)"></i><i style="background:linear-gradient(90deg,#00ffb2 0.5px,#00ffba 22.5px,#00ffc7 27.5px,#00ffd7 29.5px,#00ffe9 30.5px,#00edff 31.5px,#009dff 32.5px,#0056ff 33.5px,#0036ff 34.5px,#0027ff 35.5px,#0015ff 38.5px,#0008ff 48.5px,#0003ff 145.5px,#0003ff 234.5px)"></i><i style="background:linear-gradient(90deg,#00ffb6 0.5px,#00ffc0 23.5px,#00ffce 28.5px,#00ffe4 30.5px,#00ffff 31.5px,#00c2ff 32.5px,#006fff 33.5px,#0041ff 34.5px,#002cff 35.5px,#001aff 37.5px,#000cff 43.5px,#0003ff 77.5px,#0003ff 234.5px)"></i><i style="background:linear-gradient(90deg,#00ffbb 0.5px,#00ffc3 23.5px,#00ffd0 28.5px,#00ffe0 30.5px,#00fff3 31.5px,#00e1ff 32.5px,#0091ff 33.5px,#0050ff 34.5px,#0033ff 35.5px,#0025ff 36.5px,#0014ff 39.5px,#0008ff 49.5px,#0002ff 153.5px,#0003ff 234.5px)"></i><i style="background:linear-gradient(90deg,#00ffc0 0.5px,#00ffc9 24.5px,#00ffd7 29.5px,#00ffed 31.5px,#00f6ff 32.5px,#00b8ff 33.5px,#0068ff 34.5px,#003dff 35.5px,#002aff 36.5px,#0019ff 38.5px,#000cff 44.5px,#0003ff 79.5px,#0003ff 234.5px)"></i><i style="background:linear-gradient(90deg,#00ffc4 0.5px,#00ffcd 24.5px,#00ffd9 29.5px,#00ffe9 31.5px,#00fffc 32.5px,#00d9ff 33.5px,#008aff 34.5px,#004cff 35.5px,#0031ff 36.5px,#001bff 38.5px,#000dff 43.5px,#0004ff 68.5px,#0003ff 234.5px)"></i><i style="background:linear-gradient(90deg,#00ffc9 0.5px,#00ffd2 25.5px,#00ffe0 30.5px,#00fff5 32.5px,#00eeff 33.5px,#00b2ff 34.5px,#0064ff 35.5px,#003bff 36.5px,#0028ff 37.5px,#0018ff 39.5px,#000bff 45.5px,#0003ff 82.5px,#0002ff 234.5px)"></i><i style="background:linear-gradient(90deg,#00ffcd 0.5px,#00ffd6 25.5px,#00ffe1 30.5px,#00fff1 32.5px,#00fbff 33.5px,#00d4ff 34.5px,#0088ff 35.5px,#004bff 36.5px,#0030ff 37.5px,#001bff 39.5px,#000dff 44.5px,#0004ff 70.5px,#0002ff 234.5px)"></i><i style="background:linear-gradient(90deg,#00ffd2 0.5px,#00ffdb 26.5px,#00ffe8 31.5px,#00fffc 33.5px,#00e9ff 34.5px,#00b1ff 35.5px,#0065ff 36.5px,#003bff 37.5px,#0028ff 38.5px,#0018ff 40.5px,#000bff 46.5px,#0003ff 84.5px,#0002ff 234.5px)"></i><i style="background:linear-gradient(90deg,#00ffd7 0.5px,#00ffde 26.5px,#00ffea 31.5px,#00fff8 33.5px,#00f6ff 34.5px,#00d2ff 35.5px,#008bff 36.5px,#004dff 37.5px,#0030ff 38.5px,#001bff 40.5px,#000cff 45.5px,#0004ff 72.5px,#0002ff 234.5px)"></i><i style="background:linear-gradient(90deg,#00ffdb 0.5px,#00ffe3 27.5px,#00fff0 32.5px,#00fcff 34.5px,#00e6ff 35.5px,#00b5ff 36.5px,#006aff 37.5px,#003dff 38.5px,#0028ff 39.5px,#0018ff 41.5px,#000bff 47.5px,#0003ff 86.5px,#0002ff 234.5px)"></i><i style="background:linear-gradient(90deg,#00ffe0 0.5px,#00ffe7 27.5px,#00fff2 32.5px,#00fffe 34.5px,#00f1ff 35.5px,#00d3ff 36.5px,#0051ff 38.5px,#0032ff 39.5px,#0023ff 40.5px,#0012ff 43.5px,#0007ff 54.5px,#0002ff 211.5px,#0002ff 234.5px)"></i><i style="background:linear-gradient(90deg,#00ffe4 0.5px,#00ffec 28.5px,#00fff8 33.5px,#00fffd 34.5px,#00f7ff 35.5px,#00e5ff 36.5px,#00bcff 37.5px,#0074ff 38.5px,#0041ff 39.5px,#002aff 40.5px,#0018ff 42.5px,#000aff 48.5px,#0003ff 87.5px,#0002ff 234.5px)"></i><i style="background:linear-gradient(90deg,#00ffe9 0.5px,#00fff1 29.5px,#00fffe 34.5px,#00f9ff 35.5px,#00eeff 36.5px,#00d6ff 37.5px,#00a1ff 38.5px,#005bff 39.5px,#0035ff 40.5px,#0024ff 41.5px,#0012ff 44.5px,#0007ff 54.5px,#0002ff 186.5px,#0002ff 234.5px)"></i><i style="background:linear-gradient(90deg,#00ffed 0.5px,#00fff5 29.5px,#00ffff 34.5px,#00f2ff 36.5px,#00e4ff 37.5px,#00c4ff 38.5px,#0049ff 40.5px,#002dff 41.5px,#0019ff 43.5px,#000bff 48.5px,#0003ff 78.5px,#0002ff 234.5px)"></i><i style="background:linear-gradient(90deg,#00fff2 0.5px,#00fffa 30.5px,#00fdff 34.5px,#00f4ff 36.5px,#00eaff 37.5px,#00d8ff 38.5px,#00b0ff 39.5px,#006bff 40.5px,#003cff 41.5px,#0027ff 42.5px,#0017ff 44.5px,#000aff 50.5px,#0002ff 93.5px,#0002ff 234.5px)"></i><i style="background:linear-gradient(90deg,#00fff7 0.5px,#00fdff 33.5px,#00edff 37.5px,#00e2ff 38.5px,#00ccff 39.5px,#009aff 40.5px,#0057ff 41.5px,#0033ff 42.5px,#0023ff 43.5px,#0011ff 46.5px,#0006ff 57.5px,#0002ff 234.5px)"></i><i style="background:linear-gradient(90deg,#00fffb 0.5px,#00fcff 31.5px,#00eeff 37.5px,#00daff 39.5px,#00beff 40.5px,#0049ff 42.5px,#002dff 43.5px,#0018ff 45.5px,#000bff 50.5px,#0003ff 81.5px,#0002ff 234.5px)"></i><i style="background:linear-gradient(90deg,#00feff 0.5px,#00f7ff 32.5px,#00edff 37.5px,#00e0ff 39.5px,#00d1ff 40.5px,#00b0ff 41.5px,#0070ff 42.5px,#003eff 43.5px,#0028ff 44.5px,#0016ff 46.5px,#000aff 52.5px,#0002ff 96.5px,#0002ff 234.5px)"></i><i style="background:linear-gradient(90deg,#00faff 0.5px,#00f2ff 33.5px,#00e8ff 38.5px,#00d9ff 40.5px,#00c8ff 41.5px,#00a1ff 42.5px,#0060ff 43.5px,#0036ff 44.5px,#0024ff 45.5px,#0015ff 47.5px,#0008ff 54.5px,#0002ff 116.5px,#0001ff 234.5px)"></i><i style="background:linear-gradient(90deg,#00f5ff 0.5px,#00edff 34.5px,#00e3ff 39.5px,#00d3ff 41.5px,#00bfff 42.5px,#0093ff 43.5px,#0054ff 44.5px,#0031ff 45.5px,#0021ff 46.5px,#0010ff 49.5px,#0005ff 61.5px,#0001ff 234.5px)"></i><i style="background:linear-gradient(90deg,#00f0ff 0.5px,#00e9ff 35.5px,#00deff 40.5px,#00cdff 42.5px,#00b7ff 43.5px,#0086ff 44.5px,#004aff 45.5px,#002cff 46.5px,#001fff 47.5px,#0010ff 50.5px,#0005ff 63.5px,#0001ff 234.5px)"></i><i style="background:linear-gradient(90deg,#00ecff 0.5px,#00e4ff 36.5px,#00d9ff 41.5px,#00c7ff 43.5px,#00afff 44.5px,#0044ff 46.5px,#0029ff 47.5px,#0016ff 49.5px,#0009ff 55.5px,#0002ff 102.5px,#0001ff 234.5px)"></i><i style="background:linear-gradient(90deg,#00e7ff 0.5px,#00e0ff 37.5px,#00d4ff 42.5px,#00c1ff 44.5px,#00a8ff 45.5px,#003fff 47.5px,#0027ff 48.5px,#0015ff 50.5px,#0009ff 56.5px,#0002ff 106.5px,#0001ff 234.5px)"></i><i style="background:linear-gradient(90deg,#00e3ff 0.5px,#00dcff 37.5px,#00cfff 43.5px,#00bcff 45.5px,#00a2ff 46.5px,#003cff 48.5px,#0025ff 49.5px,#0014ff 51.5px,#0008ff 58.5px,#0001ff 126.5px,#0001ff 234.5px)"></i><i style="background:linear-gradient(90deg,#00deff 0.5px,#00d7ff 38.5px,#00cbff 44.5px,#00b8ff 46.5px,#009eff 47.5px,#003aff 49.5px,#0024ff 50.5px,#0014ff 52.5px,#0008ff 59.5px,#0001ff 131.5px,#0001ff 234.5px)"></i><i style="background:linear-gradient(90deg,#00d9ff 0.5px,#00d2ff 40.5px,#00c7ff 45.5px,#00b5ff 47.5px,#009cff 48.5px,#0039ff 50.5px,#0024ff 51.5px,#0014ff 53.5px,#0007ff 60.5px,#0001ff 134.5px,#0001ff 234.5px)"></i><i style="background:linear-gradient(90deg,#00d5ff 0.5px,#00ceff 41.5px,#00c3ff 46.5px,#00b2ff 48.5px,#009bff 49.5px,#003aff 51.5px,#0024ff 52.5px,#0013ff 54.5px,#0007ff 61.5px,#0001ff 137.5px,#0001ff 234.5px)"></i><i style="background:linear-gradient(90deg,#00d0ff 0.5px,#00c9ff 42.5px,#00bfff 47.5px,#00b0ff 49.5px,#009bff 50.5px,#003dff 52.5px,#0025ff 53.5px,#0014ff 55.5px,#0007ff 62.5px,#0001ff 139.5px,#0001ff 234.5px)"></i><i style="background:linear-gradient(90deg,#00cbff 0.5px,#00c5ff 43.5px,#00bcff 48.5px,#00aeff 50.5px,#009cff 51.5px,#0075ff 52.5px,#0042ff 53.5px,#0027ff 54.5px,#0014ff 56.5px,#0008ff 62.5px,#0001ff 120.5px,#0001ff 234.5px)"></i><i style="background:linear-gradient(90deg,#00c7ff 0.5px,#00c1ff 44.5px,#00b4ff 50.5px,#00acff 51.5px,#009eff 52.5px,#007dff 53.5px,#004aff 54.5px,#002aff 55.5px,#001cff 56.5px,#000dff 59.5px,#0004ff 73.5px,#0001ff 234.5px)"></i><i style="background:linear-gradient(90deg,#00c2ff 0.5px,#00bbff 46.5px,#00b1ff 51.5px,#009fff 53.5px,#0086ff 54.5px,#0056ff 55.5px,#002fff 56.5px,#001eff 57.5px,#000eff 60.5px,#0004ff 73.5px,#0001ff 234.5px)"></i><i style="background:linear-gradient(90deg,#00beff 0.5px,#00b7ff 47.5px,#00aeff 52.5px,#00a0ff 54.5px,#008eff 55.5px,#0038ff 57.5px,#0022ff 58.5px,#0012ff 60.5px,#0007ff 67.5px,#0001ff 162.5px,#0001ff 234.5px)"></i><i style="background:linear-gradient(90deg,#00b9ff 0.5px,#00b3ff 48.5px,#00a7ff 54.5px,#00a1ff 55.5px,#0093ff 56.5px,#0076ff 57.5px,#0046ff 58.5px,#0028ff 59.5px,#001aff 60.5px,#000dff 63.5px,#0003ff 79.5px,#0001ff 234.5px)"></i><i style="background:linear-gradient(90deg,#00b4ff 0.5px,#00aeff 50.5px,#00a5ff 55.5px,#0097ff 57.5px,#0084ff 58.5px,#0032ff 60.5px,#001fff 61.5px,#0011ff 63.5px,#0006ff 71.5px,#0001ff 225.5px,#0001ff 234.5px)"></i><i style="background:linear-gradient(90deg,#00b0ff 0.5px,#00a9ff 52.5px,#009fff 57.5px,#008dff 59.5px,#0072ff 60.5px,#0044ff 61.5px,#0027ff 62.5px,#0019ff 63.5px,#000cff 66.5px,#0003ff 82.5px,#0001ff 234.5px)"></i><i style="background:linear-gradient(90deg,#00abff 0.5px,#00a5ff 53.5px,#0099ff 59.5px,#0092ff 60.5px,#0082ff 61.5px,#0060ff 62.5px,#0036ff 63.5px,#0020ff 64.5px,#0011ff 66.5px,#0006ff 74.5px,#0001ff 234.5px)"></i><i style="background:linear-gradient(90deg,#00a7ff 0.5px,#00a1ff 55.5px,#0098ff 60.5px,#008bff 62.5px,#0078ff 63.5px,#002dff 65.5px,#001cff 66.5px,#000cff 69.5px,#0003ff 84.5px,#0001ff 234.5px)"></i><i style="background:linear-gradient(90deg,#00a2ff 0.5px,#009cff 57.5px,#0093ff 62.5px,#0085ff 64.5px,#0070ff 65.5px,#0048ff 66.5px,#0028ff 67.5px,#0019ff 68.5px,#000cff 71.5px,#0003ff 88.5px,#0001ff 234.5px)"></i><i style="background:linear-gradient(90deg,#009dff 0.5px,#0097ff 59.5px,#008fff 64.5px,#0080ff 66.5px,#006bff 67.5px,#0044ff 68.5px,#0026ff 69.5px,#0018ff 70.5px,#000bff 73.5px,#0003ff 91.5px,#0001ff 234.5px)"></i><i style="background:linear-gradient(90deg,#0099ff 0.5px,#0093ff 61.5px,#008bff 66.5px,#007dff 68.5px,#006aff 69.5px,#0045ff 70.5px,#0026ff 71.5px,#0018ff 72.5px,#000bff 75.5px,#0003ff 93.5px,#0001ff 234.5px)"></i><i style="background:linear-gradient(90deg,#0094ff 0.5px,#008fff 63.5px,#0083ff 69.5px,#007cff 70.5px,#006cff 71.5px,#0029ff 73.5px,#0019ff 74.5px,#000bff 77.5px,#0003ff 94.5px,#0001ff 234.5px)"></i><i style="background:linear-gradient(90deg,#008fff 0.5px,#008aff 66.5px,#0081ff 71.5px,#006fff 73.5px,#0055ff 74.5px,#0031ff 75.5px,#001cff 76.5px,#000eff 78.5px,#0004ff 87.5px,#0001ff 234.5px)"></i><i style="background:linear-gradient(90deg,#008bff 0.5px,#0086ff 68.5px,#007aff 74.5px,#0072ff 75.5px,#0061ff 76.5px,#0023ff 78.5px,#0016ff 79.5px,#000aff 82.5px,#0002ff 102.5px,#0000ff 234.5px)"></i><i style="background:linear-gradient(90deg,#0086ff 0.5px,#0081ff 71.5px,#0079ff 76.5px,#006bff 78.5px,#0055ff 79.5px,#0032ff 80.5px,#001dff 81.5px,#000eff 83.5px,#0004ff 92.5px,#0000ff 234.5px)"></i><i style="background:linear-gradient(90deg,#0081ff 0.5px,#007cff 74.5px,#0074ff 79.5px,#0065ff 81.5px,#004eff 82.5px,#002dff 83.5px,#001aff 84.5px,#000dff 86.5px,#0004ff 96.5px,#0000ff 234.5px)"></i><i style="background:linear-gradient(90deg,#007dff 0.5px,#0078ff 77.5px,#0070ff 82.5px,#0062ff 84.5px,#004dff 85.5px,#002dff 86.5px,#001aff 87.5px,#000dff 89.5px,#0003ff 99.5px,#0000ff 234.5px)"></i><i style="background:linear-gradient(90deg,#0078ff 0.5px,#0073ff 81.5px,#0069ff 86.5px,#0062ff 87.5px,#0053ff 88.5px,#0035ff 89.5px,#001dff 90.5px,#000dff 92.5px,#0004ff 101.5px,#0000ff 234.5px)"></i><i style="background:linear-gradient(90deg,#0074ff 0.5px,#006eff 85.5px,#0063ff 90.5px,#005aff 91.5px,#0045ff 92.5px,#0027ff 93.5px,#0017ff 94.5px,#0009ff 97.5px,#0002ff 118.5px,#0000ff 234.5px)"></i><i style="background:linear-gradient(90deg,#006fff 0.5px,#006aff 89.5px,#005eff 94.5px,#0055ff 95.5px,#0023ff 97.5px,#0015ff 98.5px,#0009ff 101.5px,#0001ff 125.5px,#0000ff 234.5px)"></i><i style="background:linear-gradient(90deg,#006aff 0.5px,#0065ff 93.5px,#005cff 98.5px,#0054ff 99.5px,#0042ff 100.5px,#0027ff 101.5px,#0016ff 102.5px,#0009ff 105.5px,#0001ff 128.5px,#0000ff 234.5px)"></i><i style="background:linear-gradient(90deg,#0066ff 0.5px,#0061ff 98.5px,#005aff 102.5px,#004bff 104.5px,#001dff 106.5px,#0012ff 107.5px,#0006ff 111.5px,#0001ff 167.5px,#0000ff 234.5px)"></i><i style="background:linear-gradient(90deg,#0061ff 0.5px,#005cff 103.5px,#0052ff 108.5px,#0049ff 109.5px,#001dff 111.5px,#0011ff 112.5px,#0006ff 116.5px,#0001ff 176.5px,#0000ff 234.5px)"></i><i style="background:linear-gradient(90deg,#005cff 0.5px,#0058ff 109.5px,#0051ff 113.5px,#004bff 114.5px,#003eff 115.5px,#0016ff 117.5px,#000aff 119.5px,#0002ff 132.5px,#0000ff 234.5px)"></i><i style="background:linear-gradient(90deg,#0058ff 0.5px,#0053ff 115.5px,#004dff 119.5px,#003eff 121.5px,#0017ff 123.5px,#000aff 125.5px,#0002ff 137.5px,#0000ff 234.5px)"></i><i style="background:linear-gradient(90deg,#0053ff 0.5px,#004fff 122.5px,#0049ff 126.5px,#0044ff 127.5px,#0038ff 128.5px,#0014ff 130.5px,#0007ff 133.5px,#0001ff 164.5px,#0000ff 234.5px)"></i><i style="background:linear-gradient(90deg,#004eff 0.5px,#004aff 130.5px,#0043ff 134.5px,#003dff 135.5px,#0030ff 136.5px,#001cff 137.5px,#0010ff 138.5px,#0005ff 142.5px,#0000ff 234.5px)"></i><i style="background:linear-gradient(90deg,#004aff 0.5px,#0045ff 139.5px,#003eff 143.5px,#0036ff 144.5px,#0015ff 146.5px,#0009ff 148.5px,#0002ff 162.5px,#0000ff 234.5px)"></i></div>
<div class="cb" style="left:671px;top:14px;width:16px;height:206px"></div>
<svg width="725" height="257" viewBox="0 0 725 257">
<rect x="49.5" y="15.5" width="234" height="205" fill="none" stroke="#000" stroke-width="1"/>
<path d="M72.9 220v-2M72.9 16v2M96.3 220v-4M96.3 16v4M119.7 220v-2M119.7 16v2M143.1 220v-4M143.1 16v4M166.5 220v-2M166.5 16v2M189.9 220v-4M189.9 16v4M213.3 220v-2M213.3 16v2M236.7 220v-4M236.7 16v4M260.1 220v-2M260.1 16v2M50 204.7h4M283 204.7h-4M50 189.0h2M283 189.0h-2M50 173.2h4M283 173.2h-4M50 157.4h2M283 157.4h-2M50 141.7h4M283 141.7h-4M50 125.9h2M283 125.9h-2M50 110.1h4M283 110.1h-4M50 94.3h2M283 94.3h-2M50 78.6h4M283 78.6h-4M50 62.8h2M283 62.8h-2M50 47.0h4M283 47.0h-4M50 31.3h2M283 31.3h-2" stroke="#000" stroke-width="1" fill="none"/>
<text x="49.50" y="235.00" font-size="13" text-anchor="middle">0.0</text>
<text x="96.30" y="235.00" font-size="13" text-anchor="middle">0.2</text>
<text x="143.10" y="235.00" font-size="13" text-anchor="middle">0.4</text>
<text x="189.90" y="235.00" font-size="13" text-anchor="middle">0.6</text>
<text x="236.70" y="235.00" font-size="13" text-anchor="middle">0.8</text>
<text x="283.50" y="235.00" font-size="13" text-anchor="middle">1.0</text>
<text x="44.80" y="208.33" font-size="13" text-anchor="end">2</text>
<text x="44.80" y="176.79" font-size="13" text-anchor="end">4</text>
<text x="44.80" y="145.25" font-size="13" text-anchor="end">6</text>
<text x="44.80" y="113.72" font-size="13" text-anchor="end">8</text>
<text x="44.80" y="82.18" font-size="13" text-anchor="end">10</text>
<text x="44.80" y="50.64" font-size="13" text-anchor="end">12</text>
<text x="44.80" y="18.60" font-size="13" text-anchor="end">14</text>
<text x="23.80" y="177.20" font-size="16.9" transform="rotate(-90 23.80 177.20)">Wavelength (μm)</text>
<text x="108.20" y="253.50" font-size="16.9">Fermi Level (eV)</text>
<text x="0.15" y="11.50" font-size="15">(a)</text>
<rect x="420.5" y="14.5" width="234" height="205" fill="none" stroke="#000" stroke-width="1"/>
<path d="M444.2 219v-2M444.2 15v2M467.6 219v-4M467.6 15v4M491.0 219v-2M491.0 15v2M514.4 219v-4M514.4 15v4M537.8 219v-2M537.8 15v2M561.2 219v-4M561.2 15v4M584.6 219v-2M584.6 15v2M608.0 219v-4M608.0 15v4M631.4 219v-2M631.4 15v2M421 203.7h4M654 203.7h-4M421 188.0h2M654 188.0h-2M421 172.2h4M654 172.2h-4M421 156.4h2M654 156.4h-2M421 140.7h4M654 140.7h-4M421 124.9h2M654 124.9h-2M421 109.1h4M654 109.1h-4M421 93.3h2M654 93.3h-2M421 77.6h4M654 77.6h-4M421 61.8h2M654 61.8h-2M421 46.0h4M654 46.0h-4M421 30.3h2M654 30.3h-2" stroke="#000" stroke-width="1" fill="none"/>
<text x="420.50" y="234.00" font-size="13" text-anchor="middle">0.0</text>
<text x="467.30" y="234.00" font-size="13" text-anchor="middle">0.2</text>
<text x="514.10" y="234.00" font-size="13" text-anchor="middle">0.4</text>
<text x="560.90" y="234.00" font-size="13" text-anchor="middle">0.6</text>
<text x="607.70" y="234.00" font-size="13" text-anchor="middle">0.8</text>
<text x="654.50" y="234.00" font-size="13" text-anchor="middle">1.0</text>
<text x="416.00" y="207.33" font-size="13" text-anchor="end">2</text>
<text x="416.00" y="175.79" font-size="13" text-anchor="end">4</text>
<text x="416.00" y="144.25" font-size="13" text-anchor="end">6</text>
<text x="416.00" y="112.72" font-size="13" text-anchor="end">8</text>
<text x="416.00" y="81.18" font-size="13" text-anchor="end">10</text>
<text x="416.00" y="49.64" font-size="13" text-anchor="end">12</text>
<text x="416.00" y="18.10" font-size="13" text-anchor="end">14</text>
<text x="393.80" y="175.40" font-size="16.9" transform="rotate(-90 393.80 175.40)">Wavelength (μm)</text>
<text x="479.20" y="251.30" font-size="16.9">Fermi Level (eV)</text>
<text x="368.10" y="11.20" font-size="15">(b)</text>
<text x="324.9" y="19.80" font-size="13">-1050</text>
<text x="324.9" y="40.87" font-size="13">-940.0</text>
<text x="324.9" y="61.95" font-size="13">-830.0</text>
<text x="324.9" y="83.02" font-size="13">-720.0</text>
<text x="324.9" y="104.09" font-size="13">-610.0</text>
<text x="324.9" y="125.17" font-size="13">-500.0</text>
<text x="324.9" y="146.24" font-size="13">-390.0</text>
<text x="324.9" y="167.31" font-size="13">-280.0</text>
<text x="324.9" y="188.39" font-size="13">-170.0</text>
<text x="324.9" y="209.46" font-size="13">-60.00</text>
<text x="324.9" y="226.70" font-size="13">30.00</text>
<text x="695.9" y="19.20" font-size="13">0.000</text>
<text x="695.9" y="39.80" font-size="13">7.200</text>
<text x="695.9" y="60.40" font-size="13">14.40</text>
<text x="695.9" y="81.00" font-size="13">21.60</text>
<text x="695.9" y="101.60" font-size="13">28.80</text>
<text x="695.9" y="122.20" font-size="13">36.00</text>
<text x="695.9" y="142.80" font-size="13">43.20</text>
<text x="695.9" y="163.40" font-size="13">50.40</text>
<text x="695.9" y="184.00" font-size="13">57.60</text>
<text x="695.9" y="204.60" font-size="13">64.80</text>
<text x="695.9" y="225.20" font-size="13">72.00</text>
</svg>
</body></html>
